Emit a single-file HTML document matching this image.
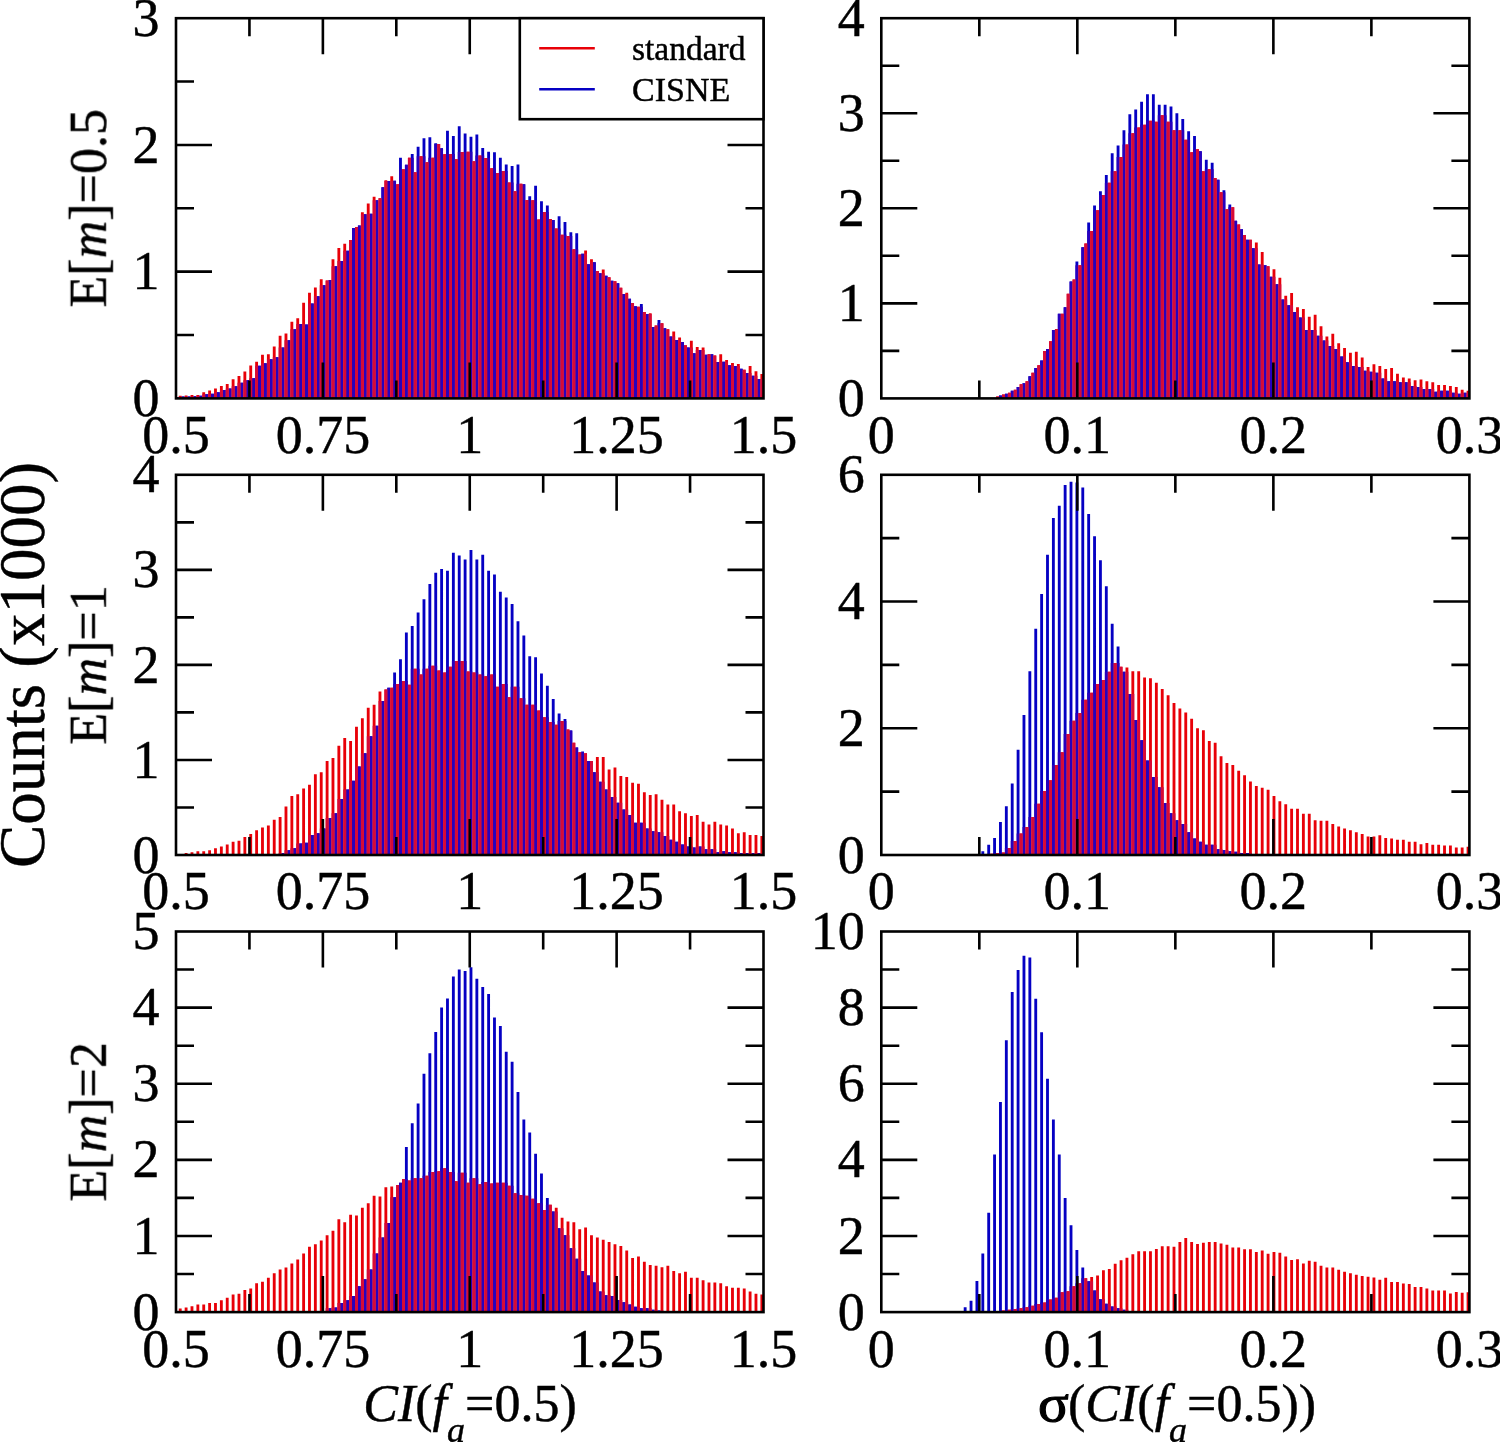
<!DOCTYPE html><html><head><meta charset="utf-8"><style>html,body{margin:0;padding:0;background:#fff;}svg{display:block;}text{font-family:"Liberation Serif",serif;fill:#000;stroke:#000;stroke-width:0.45px;}</style></head><body>
<svg width="1500" height="1442" viewBox="0 0 1500 1442">
<rect width="1500" height="1442" fill="#fff"/>
<path fill="#0500c3" d="M175.80 397.13h2.85v1.27h-2.85zM181.68 396.50h2.85v1.90h-2.85zM187.55 396.50h2.85v1.90h-2.85zM193.43 396.25h2.85v2.15h-2.85zM199.30 395.87h2.85v2.53h-2.85zM205.18 394.34h2.85v4.06h-2.85zM211.05 393.84h2.85v4.56h-2.85zM216.93 392.19h2.85v6.21h-2.85zM222.80 390.04h2.85v8.36h-2.85zM228.68 388.51h2.85v9.89h-2.85zM234.55 386.36h2.85v12.04h-2.85zM240.43 382.69h2.85v15.71h-2.85zM246.30 380.15h2.85v18.25h-2.85zM252.18 378.25h2.85v20.15h-2.85zM258.05 365.70h2.85v32.70h-2.85zM263.93 363.17h2.85v35.23h-2.85zM269.80 359.24h2.85v39.16h-2.85zM275.68 357.34h2.85v41.06h-2.85zM281.55 347.45h2.85v50.95h-2.85zM287.43 340.23h2.85v58.17h-2.85zM293.30 329.20h2.85v69.20h-2.85zM299.18 324.01h2.85v74.39h-2.85zM305.05 324.51h2.85v73.89h-2.85zM310.93 303.48h2.85v94.92h-2.85zM316.80 296.13h2.85v102.27h-2.85zM322.68 285.23h2.85v113.17h-2.85zM328.55 280.03h2.85v118.37h-2.85zM334.43 266.22h2.85v132.18h-2.85zM340.30 261.02h2.85v137.38h-2.85zM346.18 250.76h2.85v147.64h-2.85zM352.05 228.07h2.85v170.33h-2.85zM357.93 225.41h2.85v172.99h-2.85zM363.80 214.13h2.85v184.27h-2.85zM369.68 213.75h2.85v184.65h-2.85zM375.55 200.19h2.85v198.21h-2.85zM381.43 187.26h2.85v211.14h-2.85zM387.30 180.93h2.85v217.47h-2.85zM393.18 180.80h2.85v217.60h-2.85zM399.05 157.73h2.85v240.67h-2.85zM404.93 164.70h2.85v233.70h-2.85zM410.80 153.93h2.85v244.47h-2.85zM416.68 146.71h2.85v251.69h-2.85zM422.55 138.34h2.85v260.06h-2.85zM428.43 137.33h2.85v261.07h-2.85zM434.30 143.29h2.85v255.11h-2.85zM440.18 148.36h2.85v250.04h-2.85zM446.05 130.74h2.85v267.66h-2.85zM451.93 135.94h2.85v262.46h-2.85zM457.80 126.30h2.85v272.10h-2.85zM463.68 133.40h2.85v265.00h-2.85zM469.55 136.70h2.85v261.70h-2.85zM475.43 134.41h2.85v263.99h-2.85zM481.30 148.10h2.85v250.30h-2.85zM487.18 151.78h2.85v246.62h-2.85zM493.05 152.28h2.85v246.12h-2.85zM498.93 157.73h2.85v240.67h-2.85zM504.80 164.45h2.85v233.95h-2.85zM510.68 165.97h2.85v232.43h-2.85zM516.55 164.45h2.85v233.95h-2.85zM522.42 184.22h2.85v214.18h-2.85zM528.30 196.26h2.85v202.14h-2.85zM534.17 185.87h2.85v212.53h-2.85zM540.05 201.33h2.85v197.07h-2.85zM545.92 205.39h2.85v193.01h-2.85zM551.80 219.96h2.85v178.44h-2.85zM557.67 216.16h2.85v182.24h-2.85zM563.55 222.11h2.85v176.29h-2.85zM569.42 232.25h2.85v166.15h-2.85zM575.30 233.14h2.85v165.26h-2.85zM581.17 253.67h2.85v144.73h-2.85zM587.05 264.19h2.85v134.21h-2.85zM592.92 262.16h2.85v136.24h-2.85zM598.80 273.31h2.85v125.09h-2.85zM604.67 275.85h2.85v122.55h-2.85zM610.55 280.79h2.85v117.61h-2.85zM616.42 283.33h2.85v115.07h-2.85zM622.30 294.10h2.85v104.30h-2.85zM628.17 298.79h2.85v99.61h-2.85zM634.05 306.26h2.85v92.14h-2.85zM639.92 304.11h2.85v94.29h-2.85zM645.80 314.12h2.85v84.28h-2.85zM651.67 327.05h2.85v71.35h-2.85zM657.55 320.08h2.85v78.32h-2.85zM663.42 328.19h2.85v70.21h-2.85zM669.30 336.55h2.85v61.85h-2.85zM675.17 340.10h2.85v58.30h-2.85zM681.05 341.88h2.85v56.52h-2.85zM686.92 347.45h2.85v50.95h-2.85zM692.80 353.16h2.85v45.24h-2.85zM698.67 350.11h2.85v48.29h-2.85zM704.55 354.80h2.85v43.60h-2.85zM710.42 354.30h2.85v44.10h-2.85zM716.30 362.03h2.85v36.37h-2.85zM722.17 361.77h2.85v36.63h-2.85zM728.05 365.20h2.85v33.20h-2.85zM733.92 365.96h2.85v32.44h-2.85zM739.80 368.87h2.85v29.53h-2.85zM745.67 372.93h2.85v25.47h-2.85zM751.55 375.84h2.85v22.56h-2.85zM757.42 378.88h2.85v19.52h-2.85z"/>
<path fill="#2800be" d="M175.80 397.13h2.85v1.27h-2.85zM181.68 396.50h2.85v1.90h-2.85zM187.55 396.50h2.85v1.90h-2.85zM193.43 396.25h2.85v2.15h-2.85zM199.30 395.87h2.85v2.53h-2.85zM205.18 394.34h2.85v4.06h-2.85zM211.05 393.84h2.85v4.56h-2.85zM216.93 392.19h2.85v6.21h-2.85zM222.80 390.04h2.85v8.36h-2.85zM228.68 388.51h2.85v9.89h-2.85zM234.55 386.36h2.85v12.04h-2.85zM240.43 382.69h2.85v15.71h-2.85zM246.30 380.15h2.85v18.25h-2.85zM252.18 378.25h2.85v20.15h-2.85zM258.05 365.70h2.85v32.70h-2.85zM263.93 363.17h2.85v35.23h-2.85zM269.80 359.24h2.85v39.16h-2.85zM275.68 357.34h2.85v41.06h-2.85zM281.55 347.45h2.85v50.95h-2.85zM287.43 340.23h2.85v58.17h-2.85zM293.30 329.20h2.85v69.20h-2.85zM299.18 324.01h2.85v74.39h-2.85zM305.05 324.51h2.85v73.89h-2.85zM310.93 303.48h2.85v94.92h-2.85zM316.80 296.13h2.85v102.27h-2.85zM322.68 285.23h2.85v113.17h-2.85zM328.55 280.03h2.85v118.37h-2.85zM334.43 266.22h2.85v132.18h-2.85zM340.30 261.02h2.85v137.38h-2.85zM346.18 250.76h2.85v147.64h-2.85zM352.05 228.07h2.85v170.33h-2.85zM357.93 225.41h2.85v172.99h-2.85zM363.80 214.13h2.85v184.27h-2.85zM369.68 213.75h2.85v184.65h-2.85zM375.55 200.19h2.85v198.21h-2.85zM381.43 187.26h2.85v211.14h-2.85zM387.30 180.93h2.85v217.47h-2.85zM393.18 180.80h2.85v217.60h-2.85zM399.05 169.27h2.85v229.13h-2.85zM404.93 164.70h2.85v233.70h-2.85zM410.80 157.86h2.85v240.54h-2.85zM416.68 156.34h2.85v242.06h-2.85zM422.55 156.34h2.85v242.06h-2.85zM428.43 157.86h2.85v240.54h-2.85zM434.30 143.92h2.85v254.48h-2.85zM440.18 148.36h2.85v250.04h-2.85zM446.05 153.93h2.85v244.47h-2.85zM451.93 153.93h2.85v244.47h-2.85zM457.80 151.90h2.85v246.50h-2.85zM463.68 151.78h2.85v246.62h-2.85zM469.55 151.78h2.85v246.62h-2.85zM475.43 155.58h2.85v242.82h-2.85zM481.30 155.58h2.85v242.82h-2.85zM487.18 158.11h2.85v240.29h-2.85zM493.05 168.25h2.85v230.15h-2.85zM498.93 171.04h2.85v227.36h-2.85zM504.80 171.04h2.85v227.36h-2.85zM510.68 182.45h2.85v215.95h-2.85zM516.55 183.84h2.85v214.56h-2.85zM522.42 184.22h2.85v214.18h-2.85zM528.30 200.06h2.85v198.34h-2.85zM534.17 200.32h2.85v198.08h-2.85zM540.05 212.10h2.85v186.30h-2.85zM545.92 212.10h2.85v186.30h-2.85zM551.80 219.96h2.85v178.44h-2.85zM557.67 228.45h2.85v169.95h-2.85zM563.55 234.79h2.85v163.61h-2.85zM569.42 236.05h2.85v162.35h-2.85zM575.30 249.23h2.85v149.17h-2.85zM581.17 253.67h2.85v144.73h-2.85zM587.05 264.19h2.85v134.21h-2.85zM592.92 262.16h2.85v136.24h-2.85zM598.80 273.31h2.85v125.09h-2.85zM604.67 275.85h2.85v122.55h-2.85zM610.55 280.79h2.85v117.61h-2.85zM616.42 283.33h2.85v115.07h-2.85zM622.30 294.10h2.85v104.30h-2.85zM628.17 298.79h2.85v99.61h-2.85zM634.05 306.26h2.85v92.14h-2.85zM639.92 306.77h2.85v91.63h-2.85zM645.80 314.12h2.85v84.28h-2.85zM651.67 327.05h2.85v71.35h-2.85zM657.55 323.25h2.85v75.15h-2.85zM663.42 328.19h2.85v70.21h-2.85zM669.30 336.55h2.85v61.85h-2.85zM675.17 340.10h2.85v58.30h-2.85zM681.05 341.88h2.85v56.52h-2.85zM686.92 347.45h2.85v50.95h-2.85zM692.80 353.16h2.85v45.24h-2.85zM698.67 350.11h2.85v48.29h-2.85zM704.55 354.80h2.85v43.60h-2.85zM710.42 354.30h2.85v44.10h-2.85zM716.30 362.03h2.85v36.37h-2.85zM722.17 361.77h2.85v36.63h-2.85zM728.05 365.20h2.85v33.20h-2.85zM733.92 365.96h2.85v32.44h-2.85zM739.80 368.87h2.85v29.53h-2.85zM745.67 372.93h2.85v25.47h-2.85zM751.55 375.84h2.85v22.56h-2.85zM757.42 378.88h2.85v19.52h-2.85z"/>
<path fill="#e80008" d="M178.80 395.87h2.85v2.53h-2.85zM184.68 395.49h2.85v2.91h-2.85zM190.55 395.10h2.85v3.30h-2.85zM196.43 395.10h2.85v3.30h-2.85zM202.30 392.19h2.85v6.21h-2.85zM208.18 390.42h2.85v7.98h-2.85zM214.05 388.51h2.85v9.89h-2.85zM219.93 385.98h2.85v12.42h-2.85zM225.80 384.08h2.85v14.32h-2.85zM231.68 379.26h2.85v19.14h-2.85zM237.55 375.97h2.85v22.43h-2.85zM243.43 371.53h2.85v26.87h-2.85zM249.30 365.45h2.85v32.95h-2.85zM255.18 361.65h2.85v36.75h-2.85zM261.05 354.68h2.85v43.72h-2.85zM266.93 354.30h2.85v44.10h-2.85zM272.80 346.44h2.85v51.96h-2.85zM278.68 335.67h2.85v62.73h-2.85zM284.55 333.51h2.85v64.89h-2.85zM290.43 321.85h2.85v76.55h-2.85zM296.30 318.18h2.85v80.22h-2.85zM302.18 302.84h2.85v95.56h-2.85zM308.05 292.83h2.85v105.57h-2.85zM313.93 287.38h2.85v111.02h-2.85zM319.80 279.27h2.85v119.13h-2.85zM325.68 280.54h2.85v117.86h-2.85zM331.55 259.37h2.85v139.03h-2.85zM337.43 248.09h2.85v150.31h-2.85zM343.30 243.79h2.85v154.61h-2.85zM349.18 239.98h2.85v158.42h-2.85zM355.05 227.06h2.85v171.34h-2.85zM360.93 212.23h2.85v186.17h-2.85zM366.80 203.61h2.85v194.79h-2.85zM372.68 196.77h2.85v201.63h-2.85zM378.55 198.16h2.85v200.24h-2.85zM384.43 180.29h2.85v218.11h-2.85zM390.30 176.24h2.85v222.16h-2.85zM396.18 184.22h2.85v214.18h-2.85zM402.05 169.27h2.85v229.13h-2.85zM407.93 157.86h2.85v240.54h-2.85zM413.80 172.31h2.85v226.09h-2.85zM419.68 156.34h2.85v242.06h-2.85zM425.55 162.30h2.85v236.10h-2.85zM431.43 157.86h2.85v240.54h-2.85zM437.30 143.92h2.85v254.48h-2.85zM443.18 154.31h2.85v244.09h-2.85zM449.05 153.93h2.85v244.47h-2.85zM454.93 159.25h2.85v239.15h-2.85zM460.80 151.90h2.85v246.50h-2.85zM466.68 151.78h2.85v246.62h-2.85zM472.55 161.16h2.85v237.24h-2.85zM478.43 155.58h2.85v242.82h-2.85zM484.30 158.11h2.85v240.29h-2.85zM490.18 168.25h2.85v230.15h-2.85zM496.05 172.94h2.85v225.46h-2.85zM501.93 171.04h2.85v227.36h-2.85zM507.80 182.45h2.85v215.95h-2.85zM513.67 191.19h2.85v207.21h-2.85zM519.55 183.84h2.85v214.56h-2.85zM525.42 200.06h2.85v198.34h-2.85zM531.30 200.32h2.85v198.08h-2.85zM537.17 219.58h2.85v178.82h-2.85zM543.05 212.10h2.85v186.30h-2.85zM548.92 218.95h2.85v179.45h-2.85zM554.80 228.45h2.85v169.95h-2.85zM560.67 234.79h2.85v163.61h-2.85zM566.55 236.05h2.85v162.35h-2.85zM572.42 249.23h2.85v149.17h-2.85zM578.30 254.43h2.85v143.97h-2.85zM584.17 250.38h2.85v148.02h-2.85zM590.05 259.37h2.85v139.03h-2.85zM595.92 271.03h2.85v127.37h-2.85zM601.80 269.51h2.85v128.89h-2.85zM607.67 277.37h2.85v121.03h-2.85zM613.55 281.30h2.85v117.10h-2.85zM619.42 287.76h2.85v110.64h-2.85zM625.30 292.70h2.85v105.70h-2.85zM631.17 302.97h2.85v95.43h-2.85zM637.05 306.77h2.85v91.63h-2.85zM642.92 312.09h2.85v86.31h-2.85zM648.80 313.24h2.85v85.16h-2.85zM654.67 325.40h2.85v73.00h-2.85zM660.55 323.25h2.85v75.15h-2.85zM666.42 329.33h2.85v69.07h-2.85zM672.30 331.48h2.85v66.92h-2.85zM678.17 337.44h2.85v60.96h-2.85zM684.05 345.17h2.85v53.23h-2.85zM689.92 340.74h2.85v57.66h-2.85zM695.80 347.07h2.85v51.33h-2.85zM701.67 347.45h2.85v50.95h-2.85zM707.55 354.30h2.85v44.10h-2.85zM713.42 355.44h2.85v42.96h-2.85zM719.30 354.30h2.85v44.10h-2.85zM725.17 360.00h2.85v38.40h-2.85zM731.05 362.91h2.85v35.49h-2.85zM736.92 364.06h2.85v34.34h-2.85zM742.80 369.76h2.85v28.64h-2.85zM748.67 365.96h2.85v32.44h-2.85zM754.55 371.15h2.85v27.25h-2.85zM760.42 373.94h2.85v24.46h-2.85z"/>
<path fill="#d70a37" d="M178.80 396.50h2.85v1.90h-2.85zM184.68 396.50h2.85v1.90h-2.85zM190.55 396.25h2.85v2.15h-2.85zM196.43 395.87h2.85v2.53h-2.85zM202.30 394.34h2.85v4.06h-2.85zM208.18 393.84h2.85v4.56h-2.85zM214.05 392.19h2.85v6.21h-2.85zM219.93 390.04h2.85v8.36h-2.85zM225.80 388.51h2.85v9.89h-2.85zM231.68 386.36h2.85v12.04h-2.85zM237.55 382.69h2.85v15.71h-2.85zM243.43 380.15h2.85v18.25h-2.85zM249.30 378.25h2.85v20.15h-2.85zM255.18 365.70h2.85v32.70h-2.85zM261.05 363.17h2.85v35.23h-2.85zM266.93 359.24h2.85v39.16h-2.85zM272.80 357.34h2.85v41.06h-2.85zM278.68 347.45h2.85v50.95h-2.85zM284.55 340.23h2.85v58.17h-2.85zM290.43 329.20h2.85v69.20h-2.85zM296.30 324.01h2.85v74.39h-2.85zM302.18 324.01h2.85v74.39h-2.85zM308.05 303.48h2.85v94.92h-2.85zM313.93 296.13h2.85v102.27h-2.85zM319.80 285.23h2.85v113.17h-2.85zM325.68 280.54h2.85v117.86h-2.85zM331.55 266.22h2.85v132.18h-2.85zM337.43 261.02h2.85v137.38h-2.85zM343.30 250.76h2.85v147.64h-2.85zM349.18 239.98h2.85v158.42h-2.85zM355.05 227.06h2.85v171.34h-2.85zM360.93 214.13h2.85v184.27h-2.85zM366.80 213.75h2.85v184.65h-2.85zM372.68 200.19h2.85v198.21h-2.85zM378.55 198.16h2.85v200.24h-2.85zM384.43 180.93h2.85v217.47h-2.85zM390.30 180.80h2.85v217.60h-2.85zM396.18 184.22h2.85v214.18h-2.85zM402.05 169.27h2.85v229.13h-2.85zM407.93 157.86h2.85v240.54h-2.85zM413.80 172.31h2.85v226.09h-2.85zM419.68 156.34h2.85v242.06h-2.85zM425.55 162.30h2.85v236.10h-2.85zM431.43 157.86h2.85v240.54h-2.85zM437.30 143.92h2.85v254.48h-2.85zM443.18 154.31h2.85v244.09h-2.85zM449.05 153.93h2.85v244.47h-2.85zM454.93 159.25h2.85v239.15h-2.85zM460.80 151.90h2.85v246.50h-2.85zM466.68 151.78h2.85v246.62h-2.85zM472.55 161.16h2.85v237.24h-2.85zM478.43 155.58h2.85v242.82h-2.85zM484.30 158.11h2.85v240.29h-2.85zM490.18 168.25h2.85v230.15h-2.85zM496.05 172.94h2.85v225.46h-2.85zM501.93 171.04h2.85v227.36h-2.85zM507.80 182.45h2.85v215.95h-2.85zM513.67 191.19h2.85v207.21h-2.85zM519.55 183.84h2.85v214.56h-2.85zM525.42 200.06h2.85v198.34h-2.85zM531.30 200.32h2.85v198.08h-2.85zM537.17 219.58h2.85v178.82h-2.85zM543.05 212.10h2.85v186.30h-2.85zM548.92 218.95h2.85v179.45h-2.85zM554.80 228.45h2.85v169.95h-2.85zM560.67 234.79h2.85v163.61h-2.85zM566.55 236.05h2.85v162.35h-2.85zM572.42 249.23h2.85v149.17h-2.85zM578.30 254.43h2.85v143.97h-2.85zM584.17 253.67h2.85v144.73h-2.85zM590.05 262.16h2.85v136.24h-2.85zM595.92 271.03h2.85v127.37h-2.85zM601.80 273.31h2.85v125.09h-2.85zM607.67 277.37h2.85v121.03h-2.85zM613.55 281.30h2.85v117.10h-2.85zM619.42 287.76h2.85v110.64h-2.85zM625.30 294.10h2.85v104.30h-2.85zM631.17 302.97h2.85v95.43h-2.85zM637.05 306.77h2.85v91.63h-2.85zM642.92 312.09h2.85v86.31h-2.85zM648.80 314.12h2.85v84.28h-2.85zM654.67 325.40h2.85v73.00h-2.85zM660.55 323.25h2.85v75.15h-2.85zM666.42 329.33h2.85v69.07h-2.85zM672.30 336.55h2.85v61.85h-2.85zM678.17 340.10h2.85v58.30h-2.85zM684.05 345.17h2.85v53.23h-2.85zM689.92 347.45h2.85v50.95h-2.85zM695.80 350.11h2.85v48.29h-2.85zM701.67 350.11h2.85v48.29h-2.85zM707.55 354.30h2.85v44.10h-2.85zM713.42 355.44h2.85v42.96h-2.85zM719.30 361.77h2.85v36.63h-2.85zM725.17 361.77h2.85v36.63h-2.85zM731.05 365.20h2.85v33.20h-2.85zM736.92 365.96h2.85v32.44h-2.85zM742.80 369.76h2.85v28.64h-2.85zM748.67 372.93h2.85v25.47h-2.85zM754.55 375.84h2.85v22.56h-2.85zM760.42 378.88h2.85v19.52h-2.85z"/>
<path fill="none" stroke="#000" stroke-width="2.60" d="M249.44 398.40v-18.00M249.44 18.20v18.00M322.88 398.40v-36.00M322.88 18.20v36.00M396.31 398.40v-18.00M396.31 18.20v18.00M469.75 398.40v-36.00M469.75 18.20v36.00M543.19 398.40v-18.00M543.19 18.20v18.00M616.62 398.40v-36.00M616.62 18.20v36.00M690.06 398.40v-18.00M690.06 18.20v18.00M176.00 335.03h18.00M763.50 335.03h-18.00M176.00 271.67h36.00M763.50 271.67h-36.00M176.00 208.30h18.00M763.50 208.30h-18.00M176.00 144.93h36.00M763.50 144.93h-36.00M176.00 81.57h18.00M763.50 81.57h-18.00"/>
<rect x="176.00" y="18.20" width="587.50" height="380.20" fill="none" stroke="#000" stroke-width="2.60"/>
<path fill="#0500c3" d="M999.02 395.55h2.85v2.85h-2.85zM1004.90 393.65h2.85v4.75h-2.85zM1010.78 390.80h2.85v7.60h-2.85zM1016.66 386.99h2.85v11.41h-2.85zM1022.54 383.19h2.85v15.21h-2.85zM1028.42 376.16h2.85v22.24h-2.85zM1034.31 367.98h2.85v30.42h-2.85zM1040.19 360.38h2.85v38.02h-2.85zM1046.07 348.97h2.85v49.43h-2.85zM1051.95 329.96h2.85v68.44h-2.85zM1057.83 313.81h2.85v84.59h-2.85zM1063.71 307.15h2.85v91.25h-2.85zM1069.59 281.49h2.85v116.91h-2.85zM1075.47 261.53h2.85v136.87h-2.85zM1081.35 247.27h2.85v151.13h-2.85zM1087.23 222.56h2.85v175.84h-2.85zM1093.12 205.45h2.85v192.95h-2.85zM1099.00 191.19h2.85v207.21h-2.85zM1104.88 175.03h2.85v223.37h-2.85zM1110.76 153.17h2.85v245.23h-2.85zM1116.64 145.57h2.85v252.83h-2.85zM1122.52 130.36h2.85v268.04h-2.85zM1128.40 114.20h2.85v284.20h-2.85zM1134.28 109.45h2.85v288.95h-2.85zM1140.16 101.84h2.85v296.56h-2.85zM1146.04 94.24h2.85v304.16h-2.85zM1151.93 94.24h2.85v304.16h-2.85zM1157.81 104.70h2.85v293.70h-2.85zM1163.69 104.70h2.85v293.70h-2.85zM1169.57 106.60h2.85v291.80h-2.85zM1175.45 113.25h2.85v285.15h-2.85zM1181.33 118.95h2.85v279.45h-2.85zM1187.21 131.31h2.85v267.09h-2.85zM1193.09 136.06h2.85v262.34h-2.85zM1198.97 151.27h2.85v247.13h-2.85zM1204.86 159.82h2.85v238.58h-2.85zM1210.74 162.68h2.85v235.72h-2.85zM1216.62 179.78h2.85v218.61h-2.85zM1222.50 190.24h2.85v208.16h-2.85zM1228.38 204.50h2.85v193.90h-2.85zM1234.26 220.66h2.85v177.74h-2.85zM1240.14 229.21h2.85v169.19h-2.85zM1246.02 239.67h2.85v158.73h-2.85zM1251.90 248.22h2.85v150.18h-2.85zM1257.78 264.38h2.85v134.02h-2.85zM1263.66 265.33h2.85v133.07h-2.85zM1269.55 276.74h2.85v121.66h-2.85zM1275.43 284.34h2.85v114.06h-2.85zM1281.31 299.55h2.85v98.85h-2.85zM1287.19 305.25h2.85v93.15h-2.85zM1293.07 311.90h2.85v86.50h-2.85zM1298.95 317.61h2.85v80.79h-2.85zM1304.83 329.96h2.85v68.44h-2.85zM1310.71 329.96h2.85v68.44h-2.85zM1316.59 335.67h2.85v62.73h-2.85zM1322.47 340.42h2.85v57.98h-2.85zM1328.36 346.12h2.85v52.28h-2.85zM1334.24 348.97h2.85v49.43h-2.85zM1340.12 356.58h2.85v41.82h-2.85zM1346.00 362.28h2.85v36.12h-2.85zM1351.88 366.08h2.85v32.32h-2.85zM1357.76 367.03h2.85v31.37h-2.85zM1363.64 370.84h2.85v27.56h-2.85zM1369.52 371.79h2.85v26.61h-2.85zM1375.40 372.74h2.85v25.66h-2.85zM1381.28 378.44h2.85v19.96h-2.85zM1387.17 381.29h2.85v17.11h-2.85zM1393.05 381.29h2.85v17.11h-2.85zM1398.93 382.24h2.85v16.16h-2.85zM1404.81 382.24h2.85v16.16h-2.85zM1410.69 386.04h2.85v12.36h-2.85zM1416.57 386.99h2.85v11.41h-2.85zM1422.45 388.89h2.85v9.51h-2.85zM1428.33 388.89h2.85v9.51h-2.85zM1434.21 391.75h2.85v6.65h-2.85zM1440.09 390.80h2.85v7.60h-2.85zM1445.98 390.80h2.85v7.60h-2.85zM1451.86 392.70h2.85v5.70h-2.85zM1457.74 393.65h2.85v4.75h-2.85zM1463.62 392.70h2.85v5.70h-2.85z"/>
<path fill="#2800be" d="M999.02 395.55h2.85v2.85h-2.85zM1004.90 393.65h2.85v4.75h-2.85zM1010.78 390.80h2.85v7.60h-2.85zM1016.66 386.99h2.85v11.41h-2.85zM1022.54 383.19h2.85v15.21h-2.85zM1028.42 376.16h2.85v22.24h-2.85zM1034.31 367.98h2.85v30.42h-2.85zM1040.19 360.38h2.85v38.02h-2.85zM1046.07 348.97h2.85v49.43h-2.85zM1051.95 329.96h2.85v68.44h-2.85zM1057.83 313.81h2.85v84.59h-2.85zM1063.71 307.15h2.85v91.25h-2.85zM1069.59 281.49h2.85v116.91h-2.85zM1075.47 265.33h2.85v133.07h-2.85zM1081.35 247.27h2.85v151.13h-2.85zM1087.23 231.11h2.85v167.29h-2.85zM1093.12 210.20h2.85v188.20h-2.85zM1099.00 194.99h2.85v203.41h-2.85zM1104.88 182.64h2.85v215.76h-2.85zM1110.76 171.23h2.85v227.17h-2.85zM1116.64 156.97h2.85v241.43h-2.85zM1122.52 144.62h2.85v253.78h-2.85zM1128.40 133.21h2.85v265.19h-2.85zM1134.28 127.51h2.85v270.89h-2.85zM1140.16 124.66h2.85v273.74h-2.85zM1146.04 120.85h2.85v277.55h-2.85zM1151.93 120.85h2.85v277.55h-2.85zM1157.81 115.15h2.85v283.25h-2.85zM1163.69 115.15h2.85v283.25h-2.85zM1169.57 121.80h2.85v276.60h-2.85zM1175.45 130.36h2.85v268.04h-2.85zM1181.33 130.36h2.85v268.04h-2.85zM1187.21 139.86h2.85v258.54h-2.85zM1193.09 149.37h2.85v249.03h-2.85zM1198.97 151.27h2.85v247.13h-2.85zM1204.86 169.33h2.85v229.07h-2.85zM1210.74 169.33h2.85v229.07h-2.85zM1216.62 179.78h2.85v218.61h-2.85zM1222.50 192.14h2.85v206.26h-2.85zM1228.38 207.35h2.85v191.05h-2.85zM1234.26 220.66h2.85v177.74h-2.85zM1240.14 229.21h2.85v169.19h-2.85zM1246.02 239.67h2.85v158.73h-2.85zM1251.90 248.22h2.85v150.18h-2.85zM1257.78 264.38h2.85v134.02h-2.85zM1263.66 265.33h2.85v133.07h-2.85zM1269.55 276.74h2.85v121.66h-2.85zM1275.43 284.34h2.85v114.06h-2.85zM1281.31 299.55h2.85v98.85h-2.85zM1287.19 305.25h2.85v93.15h-2.85zM1293.07 311.90h2.85v86.50h-2.85zM1298.95 317.61h2.85v80.79h-2.85zM1304.83 329.96h2.85v68.44h-2.85zM1310.71 329.96h2.85v68.44h-2.85zM1316.59 335.67h2.85v62.73h-2.85zM1322.47 340.42h2.85v57.98h-2.85zM1328.36 346.12h2.85v52.28h-2.85zM1334.24 348.97h2.85v49.43h-2.85zM1340.12 356.58h2.85v41.82h-2.85zM1346.00 362.28h2.85v36.12h-2.85zM1351.88 366.08h2.85v32.32h-2.85zM1357.76 367.03h2.85v31.37h-2.85zM1363.64 370.84h2.85v27.56h-2.85zM1369.52 371.79h2.85v26.61h-2.85zM1375.40 372.74h2.85v25.66h-2.85zM1381.28 378.44h2.85v19.96h-2.85zM1387.17 381.29h2.85v17.11h-2.85zM1393.05 381.29h2.85v17.11h-2.85zM1398.93 382.24h2.85v16.16h-2.85zM1404.81 382.24h2.85v16.16h-2.85zM1410.69 386.04h2.85v12.36h-2.85zM1416.57 386.99h2.85v11.41h-2.85zM1422.45 388.89h2.85v9.51h-2.85zM1428.33 388.89h2.85v9.51h-2.85zM1434.21 391.75h2.85v6.65h-2.85zM1440.09 390.80h2.85v7.60h-2.85zM1445.98 390.80h2.85v7.60h-2.85zM1451.86 392.70h2.85v5.70h-2.85zM1457.74 393.65h2.85v4.75h-2.85zM1463.62 392.70h2.85v5.70h-2.85z"/>
<path fill="#e80008" d="M996.14 396.50h2.85v1.90h-2.85zM1002.02 394.60h2.85v3.80h-2.85zM1007.90 392.70h2.85v5.70h-2.85zM1013.78 389.85h2.85v8.55h-2.85zM1019.66 384.14h2.85v14.26h-2.85zM1025.54 381.29h2.85v17.11h-2.85zM1031.42 372.74h2.85v25.66h-2.85zM1037.31 365.13h2.85v33.27h-2.85zM1043.19 350.88h2.85v47.52h-2.85zM1049.07 341.37h2.85v57.03h-2.85zM1054.95 329.01h2.85v69.39h-2.85zM1060.83 313.81h2.85v84.59h-2.85zM1066.71 293.84h2.85v104.56h-2.85zM1072.59 279.59h2.85v118.81h-2.85zM1078.47 265.33h2.85v133.07h-2.85zM1084.35 243.47h2.85v154.93h-2.85zM1090.23 231.11h2.85v167.29h-2.85zM1096.12 210.20h2.85v188.20h-2.85zM1102.00 194.99h2.85v203.41h-2.85zM1107.88 182.64h2.85v215.76h-2.85zM1113.76 171.23h2.85v227.17h-2.85zM1119.64 156.97h2.85v241.43h-2.85zM1125.52 144.62h2.85v253.78h-2.85zM1131.40 133.21h2.85v265.19h-2.85zM1137.28 127.51h2.85v270.89h-2.85zM1143.16 124.66h2.85v273.74h-2.85zM1149.04 120.85h2.85v277.55h-2.85zM1154.93 121.80h2.85v276.60h-2.85zM1160.81 115.15h2.85v283.25h-2.85zM1166.69 121.80h2.85v276.60h-2.85zM1172.57 130.36h2.85v268.04h-2.85zM1178.45 130.36h2.85v268.04h-2.85zM1184.33 139.86h2.85v258.54h-2.85zM1190.21 152.22h2.85v246.18h-2.85zM1196.09 149.37h2.85v249.03h-2.85zM1201.97 171.23h2.85v227.17h-2.85zM1207.86 169.33h2.85v229.07h-2.85zM1213.74 177.88h2.85v220.52h-2.85zM1219.62 192.14h2.85v206.26h-2.85zM1225.50 209.25h2.85v189.15h-2.85zM1231.38 207.35h2.85v191.05h-2.85zM1237.26 224.46h2.85v173.94h-2.85zM1243.14 234.91h2.85v163.49h-2.85zM1249.02 239.67h2.85v158.73h-2.85zM1254.90 242.52h2.85v155.88h-2.85zM1260.78 252.02h2.85v146.38h-2.85zM1266.66 266.28h2.85v132.12h-2.85zM1272.55 269.13h2.85v129.27h-2.85zM1278.43 277.69h2.85v120.71h-2.85zM1284.31 295.75h2.85v102.65h-2.85zM1290.19 292.89h2.85v105.51h-2.85zM1296.07 307.15h2.85v91.25h-2.85zM1301.95 309.05h2.85v89.35h-2.85zM1307.83 316.66h2.85v81.74h-2.85zM1313.71 314.76h2.85v83.64h-2.85zM1319.59 326.16h2.85v72.24h-2.85zM1325.47 336.62h2.85v61.78h-2.85zM1331.36 333.77h2.85v64.63h-2.85zM1337.24 343.27h2.85v55.13h-2.85zM1343.12 348.02h2.85v50.38h-2.85zM1349.00 352.78h2.85v45.62h-2.85zM1354.88 351.83h2.85v46.57h-2.85zM1360.76 357.53h2.85v40.87h-2.85zM1366.64 367.03h2.85v31.37h-2.85zM1372.52 364.18h2.85v34.22h-2.85zM1378.40 366.08h2.85v32.32h-2.85zM1384.28 368.93h2.85v29.47h-2.85zM1390.17 367.98h2.85v30.42h-2.85zM1396.05 373.69h2.85v24.71h-2.85zM1401.93 377.49h2.85v20.91h-2.85zM1407.81 378.44h2.85v19.96h-2.85zM1413.69 380.34h2.85v18.06h-2.85zM1419.57 379.39h2.85v19.01h-2.85zM1425.45 381.29h2.85v17.11h-2.85zM1431.33 382.24h2.85v16.16h-2.85zM1437.21 385.09h2.85v13.31h-2.85zM1443.09 385.09h2.85v13.31h-2.85zM1448.98 386.04h2.85v12.36h-2.85zM1454.86 386.99h2.85v11.41h-2.85zM1460.74 389.85h2.85v8.55h-2.85zM1466.62 390.80h2.85v7.60h-2.85z"/>
<path fill="#d70a37" d="M996.14 396.50h2.85v1.90h-2.85zM1002.02 394.60h2.85v3.80h-2.85zM1007.90 392.70h2.85v5.70h-2.85zM1013.78 389.85h2.85v8.55h-2.85zM1019.66 384.14h2.85v14.26h-2.85zM1025.54 381.29h2.85v17.11h-2.85zM1031.42 372.74h2.85v25.66h-2.85zM1037.31 365.13h2.85v33.27h-2.85zM1043.19 350.88h2.85v47.52h-2.85zM1049.07 341.37h2.85v57.03h-2.85zM1054.95 329.01h2.85v69.39h-2.85zM1060.83 313.81h2.85v84.59h-2.85zM1066.71 293.84h2.85v104.56h-2.85zM1072.59 279.59h2.85v118.81h-2.85zM1078.47 265.33h2.85v133.07h-2.85zM1084.35 243.47h2.85v154.93h-2.85zM1090.23 231.11h2.85v167.29h-2.85zM1096.12 210.20h2.85v188.20h-2.85zM1102.00 194.99h2.85v203.41h-2.85zM1107.88 182.64h2.85v215.76h-2.85zM1113.76 171.23h2.85v227.17h-2.85zM1119.64 156.97h2.85v241.43h-2.85zM1125.52 144.62h2.85v253.78h-2.85zM1131.40 133.21h2.85v265.19h-2.85zM1137.28 127.51h2.85v270.89h-2.85zM1143.16 124.66h2.85v273.74h-2.85zM1149.04 120.85h2.85v277.55h-2.85zM1154.93 121.80h2.85v276.60h-2.85zM1160.81 115.15h2.85v283.25h-2.85zM1166.69 121.80h2.85v276.60h-2.85zM1172.57 130.36h2.85v268.04h-2.85zM1178.45 130.36h2.85v268.04h-2.85zM1184.33 139.86h2.85v258.54h-2.85zM1190.21 152.22h2.85v246.18h-2.85zM1196.09 149.37h2.85v249.03h-2.85zM1201.97 171.23h2.85v227.17h-2.85zM1207.86 169.33h2.85v229.07h-2.85zM1213.74 177.88h2.85v220.52h-2.85zM1219.62 192.14h2.85v206.26h-2.85zM1225.50 209.25h2.85v189.15h-2.85zM1231.38 207.35h2.85v191.05h-2.85zM1237.26 224.46h2.85v173.94h-2.85zM1243.14 234.91h2.85v163.49h-2.85zM1249.02 239.67h2.85v158.73h-2.85zM1254.90 248.22h2.85v150.18h-2.85zM1260.78 264.38h2.85v134.02h-2.85zM1266.66 266.28h2.85v132.12h-2.85zM1272.55 276.74h2.85v121.66h-2.85zM1278.43 284.34h2.85v114.06h-2.85zM1284.31 299.55h2.85v98.85h-2.85zM1290.19 305.25h2.85v93.15h-2.85zM1296.07 311.90h2.85v86.50h-2.85zM1301.95 317.61h2.85v80.79h-2.85zM1307.83 329.96h2.85v68.44h-2.85zM1313.71 329.96h2.85v68.44h-2.85zM1319.59 335.67h2.85v62.73h-2.85zM1325.47 340.42h2.85v57.98h-2.85zM1331.36 346.12h2.85v52.28h-2.85zM1337.24 348.97h2.85v49.43h-2.85zM1343.12 356.58h2.85v41.82h-2.85zM1349.00 362.28h2.85v36.12h-2.85zM1354.88 366.08h2.85v32.32h-2.85zM1360.76 367.03h2.85v31.37h-2.85zM1366.64 370.84h2.85v27.56h-2.85zM1372.52 371.79h2.85v26.61h-2.85zM1378.40 372.74h2.85v25.66h-2.85zM1384.28 378.44h2.85v19.96h-2.85zM1390.17 381.29h2.85v17.11h-2.85zM1396.05 381.29h2.85v17.11h-2.85zM1401.93 382.24h2.85v16.16h-2.85zM1407.81 382.24h2.85v16.16h-2.85zM1413.69 386.04h2.85v12.36h-2.85zM1419.57 386.99h2.85v11.41h-2.85zM1425.45 388.89h2.85v9.51h-2.85zM1431.33 388.89h2.85v9.51h-2.85zM1437.21 390.80h2.85v7.60h-2.85zM1443.09 390.80h2.85v7.60h-2.85zM1448.98 390.80h2.85v7.60h-2.85zM1454.86 392.70h2.85v5.70h-2.85zM1460.74 392.70h2.85v5.70h-2.85zM1466.62 392.70h2.85v5.70h-2.85z"/>
<path fill="none" stroke="#000" stroke-width="2.60" d="M979.32 398.40v-18.00M979.32 18.20v18.00M1077.33 398.40v-36.00M1077.33 18.20v36.00M1175.35 398.40v-18.00M1175.35 18.20v18.00M1273.37 398.40v-36.00M1273.37 18.20v36.00M1371.38 398.40v-18.00M1371.38 18.20v18.00M881.30 350.88h18.00M1469.40 350.88h-18.00M881.30 303.35h36.00M1469.40 303.35h-36.00M881.30 255.82h18.00M1469.40 255.82h-18.00M881.30 208.30h36.00M1469.40 208.30h-36.00M881.30 160.77h18.00M1469.40 160.77h-18.00M881.30 113.25h36.00M1469.40 113.25h-36.00M881.30 65.72h18.00M1469.40 65.72h-18.00"/>
<rect x="881.30" y="18.20" width="588.10" height="380.20" fill="none" stroke="#000" stroke-width="2.60"/>
<path fill="#0500c3" d="M269.80 854.52h2.85v0.48h-2.85zM275.68 854.05h2.85v0.95h-2.85zM281.55 853.10h2.85v1.90h-2.85zM287.43 850.25h2.85v4.75h-2.85zM293.30 848.35h2.85v6.65h-2.85zM299.18 843.59h2.85v11.41h-2.85zM305.05 842.64h2.85v12.36h-2.85zM310.93 835.04h2.85v19.96h-2.85zM316.80 833.14h2.85v21.86h-2.85zM322.68 828.39h2.85v26.61h-2.85zM328.55 817.93h2.85v37.07h-2.85zM334.43 813.18h2.85v41.82h-2.85zM340.30 798.92h2.85v56.08h-2.85zM346.18 789.42h2.85v65.58h-2.85zM352.05 780.86h2.85v74.14h-2.85zM357.93 766.60h2.85v88.40h-2.85zM363.80 753.30h2.85v101.70h-2.85zM369.68 736.19h2.85v118.81h-2.85zM375.55 725.73h2.85v129.27h-2.85zM381.43 701.02h2.85v153.98h-2.85zM387.30 687.71h2.85v167.29h-2.85zM393.18 672.50h2.85v182.50h-2.85zM399.05 659.20h2.85v195.80h-2.85zM404.93 632.58h2.85v222.42h-2.85zM410.80 625.93h2.85v229.07h-2.85zM416.68 612.62h2.85v242.38h-2.85zM422.55 599.32h2.85v255.68h-2.85zM428.43 584.11h2.85v270.89h-2.85zM434.30 572.70h2.85v282.30h-2.85zM440.18 568.90h2.85v286.10h-2.85zM446.05 570.80h2.85v284.20h-2.85zM451.93 552.74h2.85v302.26h-2.85zM457.80 555.59h2.85v299.41h-2.85zM463.68 559.39h2.85v295.61h-2.85zM469.55 549.89h2.85v305.11h-2.85zM475.43 559.39h2.85v295.61h-2.85zM481.30 554.64h2.85v300.36h-2.85zM487.18 570.80h2.85v284.20h-2.85zM493.05 574.60h2.85v280.40h-2.85zM498.93 591.71h2.85v263.29h-2.85zM504.80 597.41h2.85v257.59h-2.85zM510.68 604.07h2.85v250.93h-2.85zM516.55 621.18h2.85v233.82h-2.85zM522.42 635.43h2.85v219.57h-2.85zM528.30 656.35h2.85v198.65h-2.85zM534.17 657.30h2.85v197.70h-2.85zM540.05 673.45h2.85v181.55h-2.85zM545.92 685.81h2.85v169.19h-2.85zM551.80 699.12h2.85v155.88h-2.85zM557.67 713.38h2.85v141.62h-2.85zM563.55 719.08h2.85v135.92h-2.85zM569.42 730.48h2.85v124.52h-2.85zM575.30 747.59h2.85v107.41h-2.85zM581.17 751.40h2.85v103.60h-2.85zM587.05 760.90h2.85v94.10h-2.85zM592.92 772.31h2.85v82.69h-2.85zM598.80 781.81h2.85v73.19h-2.85zM604.67 789.42h2.85v65.58h-2.85zM610.55 797.02h2.85v57.98h-2.85zM616.42 802.72h2.85v52.28h-2.85zM622.30 809.38h2.85v45.62h-2.85zM628.17 815.08h2.85v39.92h-2.85zM634.05 822.68h2.85v32.32h-2.85zM639.92 822.68h2.85v32.32h-2.85zM645.80 828.39h2.85v26.61h-2.85zM651.67 831.24h2.85v23.76h-2.85zM657.55 832.19h2.85v22.81h-2.85zM663.42 835.99h2.85v19.01h-2.85zM669.30 839.79h2.85v15.21h-2.85zM675.17 841.69h2.85v13.31h-2.85zM681.05 844.54h2.85v10.46h-2.85zM686.92 846.45h2.85v8.55h-2.85zM692.80 847.40h2.85v7.60h-2.85zM698.67 846.45h2.85v8.55h-2.85zM704.55 849.30h2.85v5.70h-2.85zM710.42 849.30h2.85v5.70h-2.85zM716.30 852.15h2.85v2.85h-2.85zM722.17 851.20h2.85v3.80h-2.85zM728.05 852.15h2.85v2.85h-2.85zM733.92 852.15h2.85v2.85h-2.85zM739.80 853.10h2.85v1.90h-2.85zM745.67 853.10h2.85v1.90h-2.85zM751.55 853.10h2.85v1.90h-2.85zM757.42 853.10h2.85v1.90h-2.85z"/>
<path fill="#2800be" d="M275.68 854.05h2.85v0.95h-2.85zM281.55 853.10h2.85v1.90h-2.85zM287.43 850.25h2.85v4.75h-2.85zM293.30 848.35h2.85v6.65h-2.85zM299.18 843.59h2.85v11.41h-2.85zM305.05 842.64h2.85v12.36h-2.85zM310.93 835.04h2.85v19.96h-2.85zM316.80 833.14h2.85v21.86h-2.85zM322.68 828.39h2.85v26.61h-2.85zM328.55 817.93h2.85v37.07h-2.85zM334.43 813.18h2.85v41.82h-2.85zM340.30 798.92h2.85v56.08h-2.85zM346.18 789.42h2.85v65.58h-2.85zM352.05 780.86h2.85v74.14h-2.85zM357.93 766.60h2.85v88.40h-2.85zM363.80 753.30h2.85v101.70h-2.85zM369.68 736.19h2.85v118.81h-2.85zM375.55 725.73h2.85v129.27h-2.85zM381.43 701.02h2.85v153.98h-2.85zM387.30 687.71h2.85v167.29h-2.85zM393.18 683.91h2.85v171.09h-2.85zM399.05 681.06h2.85v173.94h-2.85zM404.93 681.06h2.85v173.94h-2.85zM410.80 668.70h2.85v186.30h-2.85zM416.68 668.70h2.85v186.30h-2.85zM422.55 668.70h2.85v186.30h-2.85zM428.43 665.85h2.85v189.15h-2.85zM434.30 665.85h2.85v189.15h-2.85zM440.18 670.60h2.85v184.40h-2.85zM446.05 666.80h2.85v188.20h-2.85zM451.93 661.10h2.85v193.90h-2.85zM457.80 661.10h2.85v193.90h-2.85zM463.68 661.10h2.85v193.90h-2.85zM469.55 671.55h2.85v183.45h-2.85zM475.43 672.50h2.85v182.50h-2.85zM481.30 674.40h2.85v180.59h-2.85zM487.18 674.40h2.85v180.59h-2.85zM493.05 674.40h2.85v180.59h-2.85zM498.93 683.91h2.85v171.09h-2.85zM504.80 683.91h2.85v171.09h-2.85zM510.68 686.76h2.85v168.24h-2.85zM516.55 686.76h2.85v168.24h-2.85zM522.42 698.17h2.85v156.83h-2.85zM528.30 704.82h2.85v150.18h-2.85zM534.17 704.82h2.85v150.18h-2.85zM540.05 710.52h2.85v144.48h-2.85zM545.92 717.18h2.85v137.82h-2.85zM551.80 721.93h2.85v133.07h-2.85zM557.67 720.98h2.85v134.02h-2.85zM563.55 720.98h2.85v134.02h-2.85zM569.42 730.48h2.85v124.52h-2.85zM575.30 747.59h2.85v107.41h-2.85zM581.17 752.35h2.85v102.65h-2.85zM587.05 760.90h2.85v94.10h-2.85zM592.92 772.31h2.85v82.69h-2.85zM598.80 781.81h2.85v73.19h-2.85zM604.67 789.42h2.85v65.58h-2.85zM610.55 797.02h2.85v57.98h-2.85zM616.42 802.72h2.85v52.28h-2.85zM622.30 809.38h2.85v45.62h-2.85zM628.17 815.08h2.85v39.92h-2.85zM634.05 822.68h2.85v32.32h-2.85zM639.92 822.68h2.85v32.32h-2.85zM645.80 828.39h2.85v26.61h-2.85zM651.67 831.24h2.85v23.76h-2.85zM657.55 832.19h2.85v22.81h-2.85zM663.42 835.99h2.85v19.01h-2.85zM669.30 839.79h2.85v15.21h-2.85zM675.17 841.69h2.85v13.31h-2.85zM681.05 844.54h2.85v10.46h-2.85zM686.92 846.45h2.85v8.55h-2.85zM692.80 847.40h2.85v7.60h-2.85zM698.67 846.45h2.85v8.55h-2.85zM704.55 849.30h2.85v5.70h-2.85zM710.42 849.30h2.85v5.70h-2.85zM716.30 852.15h2.85v2.85h-2.85zM722.17 851.20h2.85v3.80h-2.85zM728.05 852.15h2.85v2.85h-2.85zM733.92 852.15h2.85v2.85h-2.85zM739.80 853.10h2.85v1.90h-2.85zM745.67 853.10h2.85v1.90h-2.85zM751.55 853.10h2.85v1.90h-2.85zM757.42 853.10h2.85v1.90h-2.85z"/>
<path fill="#e80008" d="M178.80 854.05h2.85v0.95h-2.85zM184.68 853.10h2.85v1.90h-2.85zM190.55 852.15h2.85v2.85h-2.85zM196.43 851.20h2.85v3.80h-2.85zM202.30 851.20h2.85v3.80h-2.85zM208.18 850.25h2.85v4.75h-2.85zM214.05 848.35h2.85v6.65h-2.85zM219.93 846.45h2.85v8.55h-2.85zM225.80 844.54h2.85v10.46h-2.85zM231.68 841.69h2.85v13.31h-2.85zM237.55 840.74h2.85v14.26h-2.85zM243.43 836.94h2.85v18.06h-2.85zM249.30 834.09h2.85v20.91h-2.85zM255.18 830.29h2.85v24.71h-2.85zM261.05 827.44h2.85v27.56h-2.85zM266.93 825.53h2.85v29.47h-2.85zM272.80 819.83h2.85v35.17h-2.85zM278.68 816.98h2.85v38.02h-2.85zM284.55 806.52h2.85v48.48h-2.85zM290.43 796.07h2.85v58.93h-2.85zM296.30 794.17h2.85v60.83h-2.85zM302.18 788.47h2.85v66.53h-2.85zM308.05 784.66h2.85v70.34h-2.85zM313.93 774.21h2.85v80.79h-2.85zM319.80 772.31h2.85v82.69h-2.85zM325.68 760.90h2.85v94.10h-2.85zM331.55 758.05h2.85v96.95h-2.85zM337.43 745.69h2.85v109.31h-2.85zM343.30 738.09h2.85v116.91h-2.85zM349.18 740.94h2.85v114.06h-2.85zM355.05 726.68h2.85v128.32h-2.85zM360.93 718.13h2.85v136.87h-2.85zM366.80 707.67h2.85v147.33h-2.85zM372.68 704.82h2.85v150.18h-2.85zM378.55 691.51h2.85v163.49h-2.85zM384.43 689.61h2.85v165.39h-2.85zM390.30 687.71h2.85v167.29h-2.85zM396.18 683.91h2.85v171.09h-2.85zM402.05 681.06h2.85v173.94h-2.85zM407.93 684.86h2.85v170.14h-2.85zM413.80 668.70h2.85v186.30h-2.85zM419.68 674.40h2.85v180.59h-2.85zM425.55 668.70h2.85v186.30h-2.85zM431.43 665.85h2.85v189.15h-2.85zM437.30 670.60h2.85v184.40h-2.85zM443.18 672.50h2.85v182.50h-2.85zM449.05 666.80h2.85v188.20h-2.85zM454.93 661.10h2.85v193.90h-2.85zM460.80 661.10h2.85v193.90h-2.85zM466.68 671.55h2.85v183.45h-2.85zM472.55 672.50h2.85v182.50h-2.85zM478.43 674.40h2.85v180.59h-2.85zM484.30 676.31h2.85v178.69h-2.85zM490.18 674.40h2.85v180.59h-2.85zM496.05 686.76h2.85v168.24h-2.85zM501.93 683.91h2.85v171.09h-2.85zM507.80 697.22h2.85v157.78h-2.85zM513.67 686.76h2.85v168.24h-2.85zM519.55 698.17h2.85v156.83h-2.85zM525.42 704.82h2.85v150.18h-2.85zM531.30 704.82h2.85v150.18h-2.85zM537.17 710.52h2.85v144.48h-2.85zM543.05 717.18h2.85v137.82h-2.85zM548.92 721.93h2.85v133.07h-2.85zM554.80 724.78h2.85v130.22h-2.85zM560.67 720.98h2.85v134.02h-2.85zM566.55 729.53h2.85v125.47h-2.85zM572.42 742.84h2.85v112.16h-2.85zM578.30 752.35h2.85v102.65h-2.85zM584.17 753.30h2.85v101.70h-2.85zM590.05 760.90h2.85v94.10h-2.85zM595.92 757.10h2.85v97.90h-2.85zM601.80 757.10h2.85v97.90h-2.85zM607.67 769.46h2.85v85.55h-2.85zM613.55 767.55h2.85v87.45h-2.85zM619.42 776.11h2.85v78.89h-2.85zM625.30 777.06h2.85v77.94h-2.85zM631.17 782.76h2.85v72.24h-2.85zM637.05 783.71h2.85v71.29h-2.85zM642.92 792.27h2.85v62.73h-2.85zM648.80 795.12h2.85v59.88h-2.85zM654.67 794.17h2.85v60.83h-2.85zM660.55 799.87h2.85v55.13h-2.85zM666.42 804.62h2.85v50.38h-2.85zM672.30 804.62h2.85v50.38h-2.85zM678.17 811.28h2.85v43.72h-2.85zM684.05 813.18h2.85v41.82h-2.85zM689.92 816.03h2.85v38.97h-2.85zM695.80 815.08h2.85v39.92h-2.85zM701.67 821.73h2.85v33.27h-2.85zM707.55 824.58h2.85v30.42h-2.85zM713.42 821.73h2.85v33.27h-2.85zM719.30 824.58h2.85v30.42h-2.85zM725.17 825.53h2.85v29.47h-2.85zM731.05 828.39h2.85v26.61h-2.85zM736.92 833.14h2.85v21.86h-2.85zM742.80 832.19h2.85v22.81h-2.85zM748.67 835.04h2.85v19.96h-2.85zM754.55 835.04h2.85v19.96h-2.85zM760.42 835.99h2.85v19.01h-2.85z"/>
<path fill="#d70a37" d="M272.80 854.05h2.85v0.95h-2.85zM278.68 853.10h2.85v1.90h-2.85zM284.55 850.25h2.85v4.75h-2.85zM290.43 848.35h2.85v6.65h-2.85zM296.30 843.59h2.85v11.41h-2.85zM302.18 842.64h2.85v12.36h-2.85zM308.05 835.04h2.85v19.96h-2.85zM313.93 833.14h2.85v21.86h-2.85zM319.80 828.39h2.85v26.61h-2.85zM325.68 817.93h2.85v37.07h-2.85zM331.55 813.18h2.85v41.82h-2.85zM337.43 798.92h2.85v56.08h-2.85zM343.30 789.42h2.85v65.58h-2.85zM349.18 780.86h2.85v74.14h-2.85zM355.05 766.60h2.85v88.40h-2.85zM360.93 753.30h2.85v101.70h-2.85zM366.80 736.19h2.85v118.81h-2.85zM372.68 725.73h2.85v129.27h-2.85zM378.55 701.02h2.85v153.98h-2.85zM384.43 689.61h2.85v165.39h-2.85zM390.30 687.71h2.85v167.29h-2.85zM396.18 683.91h2.85v171.09h-2.85zM402.05 681.06h2.85v173.94h-2.85zM407.93 684.86h2.85v170.14h-2.85zM413.80 668.70h2.85v186.30h-2.85zM419.68 674.40h2.85v180.59h-2.85zM425.55 668.70h2.85v186.30h-2.85zM431.43 665.85h2.85v189.15h-2.85zM437.30 670.60h2.85v184.40h-2.85zM443.18 672.50h2.85v182.50h-2.85zM449.05 666.80h2.85v188.20h-2.85zM454.93 661.10h2.85v193.90h-2.85zM460.80 661.10h2.85v193.90h-2.85zM466.68 671.55h2.85v183.45h-2.85zM472.55 672.50h2.85v182.50h-2.85zM478.43 674.40h2.85v180.59h-2.85zM484.30 676.31h2.85v178.69h-2.85zM490.18 674.40h2.85v180.59h-2.85zM496.05 686.76h2.85v168.24h-2.85zM501.93 683.91h2.85v171.09h-2.85zM507.80 697.22h2.85v157.78h-2.85zM513.67 686.76h2.85v168.24h-2.85zM519.55 698.17h2.85v156.83h-2.85zM525.42 704.82h2.85v150.18h-2.85zM531.30 704.82h2.85v150.18h-2.85zM537.17 710.52h2.85v144.48h-2.85zM543.05 717.18h2.85v137.82h-2.85zM548.92 721.93h2.85v133.07h-2.85zM554.80 724.78h2.85v130.22h-2.85zM560.67 720.98h2.85v134.02h-2.85zM566.55 729.53h2.85v125.47h-2.85zM572.42 742.84h2.85v112.16h-2.85zM578.30 752.35h2.85v102.65h-2.85zM584.17 753.30h2.85v101.70h-2.85zM590.05 760.90h2.85v94.10h-2.85zM595.92 772.31h2.85v82.69h-2.85zM601.80 781.81h2.85v73.19h-2.85zM607.67 789.42h2.85v65.58h-2.85zM613.55 797.02h2.85v57.98h-2.85zM619.42 802.72h2.85v52.28h-2.85zM625.30 809.38h2.85v45.62h-2.85zM631.17 815.08h2.85v39.92h-2.85zM637.05 822.68h2.85v32.32h-2.85zM642.92 822.68h2.85v32.32h-2.85zM648.80 828.39h2.85v26.61h-2.85zM654.67 831.24h2.85v23.76h-2.85zM660.55 832.19h2.85v22.81h-2.85zM666.42 835.99h2.85v19.01h-2.85zM672.30 839.79h2.85v15.21h-2.85zM678.17 841.69h2.85v13.31h-2.85zM684.05 844.54h2.85v10.46h-2.85zM689.92 846.45h2.85v8.55h-2.85zM695.80 846.45h2.85v8.55h-2.85zM701.67 846.45h2.85v8.55h-2.85zM707.55 849.30h2.85v5.70h-2.85zM713.42 849.30h2.85v5.70h-2.85zM719.30 851.20h2.85v3.80h-2.85zM725.17 851.20h2.85v3.80h-2.85zM731.05 852.15h2.85v2.85h-2.85zM736.92 852.15h2.85v2.85h-2.85zM742.80 853.10h2.85v1.90h-2.85zM748.67 853.10h2.85v1.90h-2.85zM754.55 853.10h2.85v1.90h-2.85zM760.42 853.10h2.85v1.90h-2.85z"/>
<path fill="none" stroke="#000" stroke-width="2.60" d="M249.44 855.00v-18.00M249.44 474.80v18.00M322.88 855.00v-36.00M322.88 474.80v36.00M396.31 855.00v-18.00M396.31 474.80v18.00M469.75 855.00v-36.00M469.75 474.80v36.00M543.19 855.00v-18.00M543.19 474.80v18.00M616.62 855.00v-36.00M616.62 474.80v36.00M690.06 855.00v-18.00M690.06 474.80v18.00M176.00 807.48h18.00M763.50 807.48h-18.00M176.00 759.95h36.00M763.50 759.95h-36.00M176.00 712.42h18.00M763.50 712.42h-18.00M176.00 664.90h36.00M763.50 664.90h-36.00M176.00 617.38h18.00M763.50 617.38h-18.00M176.00 569.85h36.00M763.50 569.85h-36.00M176.00 522.33h18.00M763.50 522.33h-18.00"/>
<rect x="176.00" y="474.80" width="587.50" height="380.20" fill="none" stroke="#000" stroke-width="2.60"/>
<path fill="#0500c3" d="M981.38 851.20h2.85v3.80h-2.85zM987.26 844.86h2.85v10.14h-2.85zM993.14 837.89h2.85v17.11h-2.85zM999.02 822.05h2.85v32.95h-2.85zM1004.90 806.21h2.85v48.79h-2.85zM1010.78 783.40h2.85v71.60h-2.85zM1016.66 749.81h2.85v105.19h-2.85zM1022.54 714.96h2.85v140.04h-2.85zM1028.42 671.24h2.85v183.76h-2.85zM1034.31 628.78h2.85v226.22h-2.85zM1040.19 593.93h2.85v261.07h-2.85zM1046.07 554.64h2.85v300.36h-2.85zM1051.95 517.89h2.85v337.11h-2.85zM1057.83 505.85h2.85v349.15h-2.85zM1063.71 484.94h2.85v370.06h-2.85zM1069.59 481.77h2.85v373.23h-2.85zM1075.47 482.40h2.85v372.60h-2.85zM1081.35 487.47h2.85v367.53h-2.85zM1087.23 514.09h2.85v340.91h-2.85zM1093.12 536.27h2.85v318.73h-2.85zM1099.00 560.35h2.85v294.66h-2.85zM1104.88 586.33h2.85v268.67h-2.85zM1110.76 623.71h2.85v231.29h-2.85zM1116.64 646.52h2.85v208.48h-2.85zM1122.52 671.87h2.85v183.13h-2.85zM1128.40 694.05h2.85v160.95h-2.85zM1134.28 720.03h2.85v134.97h-2.85zM1140.16 740.31h2.85v114.69h-2.85zM1146.04 760.58h2.85v94.42h-2.85zM1151.93 777.06h2.85v77.94h-2.85zM1157.81 787.20h2.85v67.80h-2.85zM1163.69 803.04h2.85v51.96h-2.85zM1169.57 813.18h2.85v41.82h-2.85zM1175.45 820.15h2.85v34.85h-2.85zM1181.33 823.95h2.85v31.05h-2.85zM1187.21 832.19h2.85v22.81h-2.85zM1193.09 838.52h2.85v16.48h-2.85zM1198.97 841.69h2.85v13.31h-2.85zM1204.86 844.86h2.85v10.14h-2.85zM1210.74 844.86h2.85v10.14h-2.85zM1216.62 849.30h2.85v5.70h-2.85zM1222.50 849.93h2.85v5.07h-2.85zM1228.38 851.20h2.85v3.80h-2.85zM1234.26 851.83h2.85v3.17h-2.85zM1240.14 853.10h2.85v1.90h-2.85zM1246.02 853.10h2.85v1.90h-2.85zM1251.90 854.37h2.85v0.63h-2.85z"/>
<path fill="#2800be" d="M987.26 853.73h2.85v1.27h-2.85zM993.14 853.10h2.85v1.90h-2.85zM999.02 852.47h2.85v2.53h-2.85zM1004.90 848.03h2.85v6.97h-2.85zM1010.78 841.06h2.85v13.94h-2.85zM1016.66 833.46h2.85v21.54h-2.85zM1022.54 827.12h2.85v27.88h-2.85zM1028.42 816.98h2.85v38.02h-2.85zM1034.31 803.67h2.85v51.33h-2.85zM1040.19 791.00h2.85v64.00h-2.85zM1046.07 780.23h2.85v74.77h-2.85zM1051.95 765.02h2.85v89.98h-2.85zM1057.83 752.35h2.85v102.65h-2.85zM1063.71 733.97h2.85v121.03h-2.85zM1069.59 720.66h2.85v134.34h-2.85zM1075.47 713.06h2.85v141.94h-2.85zM1081.35 699.75h2.85v155.25h-2.85zM1087.23 692.78h2.85v162.22h-2.85zM1093.12 683.91h2.85v171.09h-2.85zM1099.00 680.11h2.85v174.89h-2.85zM1104.88 671.87h2.85v183.13h-2.85zM1110.76 663.00h2.85v192.00h-2.85zM1116.64 663.00h2.85v192.00h-2.85zM1122.52 671.87h2.85v183.13h-2.85zM1128.40 694.05h2.85v160.95h-2.85zM1134.28 720.03h2.85v134.97h-2.85zM1140.16 740.31h2.85v114.69h-2.85zM1146.04 760.58h2.85v94.42h-2.85zM1151.93 777.06h2.85v77.94h-2.85zM1157.81 787.20h2.85v67.80h-2.85zM1163.69 803.04h2.85v51.96h-2.85zM1169.57 813.18h2.85v41.82h-2.85zM1175.45 820.15h2.85v34.85h-2.85zM1181.33 823.95h2.85v31.05h-2.85zM1187.21 832.19h2.85v22.81h-2.85zM1193.09 838.52h2.85v16.48h-2.85zM1198.97 841.69h2.85v13.31h-2.85zM1204.86 844.86h2.85v10.14h-2.85zM1210.74 844.86h2.85v10.14h-2.85zM1216.62 849.30h2.85v5.70h-2.85zM1222.50 849.93h2.85v5.07h-2.85zM1228.38 851.20h2.85v3.80h-2.85zM1234.26 851.83h2.85v3.17h-2.85zM1240.14 853.10h2.85v1.90h-2.85zM1246.02 853.10h2.85v1.90h-2.85zM1251.90 854.37h2.85v0.63h-2.85z"/>
<path fill="#e80008" d="M990.26 853.73h2.85v1.27h-2.85zM996.14 853.10h2.85v1.90h-2.85zM1002.02 852.47h2.85v2.53h-2.85zM1007.90 848.03h2.85v6.97h-2.85zM1013.78 841.06h2.85v13.94h-2.85zM1019.66 833.46h2.85v21.54h-2.85zM1025.54 827.12h2.85v27.88h-2.85zM1031.42 816.98h2.85v38.02h-2.85zM1037.31 803.67h2.85v51.33h-2.85zM1043.19 791.00h2.85v64.00h-2.85zM1049.07 780.23h2.85v74.77h-2.85zM1054.95 765.02h2.85v89.98h-2.85zM1060.83 752.35h2.85v102.65h-2.85zM1066.71 733.97h2.85v121.03h-2.85zM1072.59 720.66h2.85v134.34h-2.85zM1078.47 713.06h2.85v141.94h-2.85zM1084.35 699.75h2.85v155.25h-2.85zM1090.23 692.78h2.85v162.22h-2.85zM1096.12 683.91h2.85v171.09h-2.85zM1102.00 680.11h2.85v174.89h-2.85zM1107.88 671.87h2.85v183.13h-2.85zM1113.76 663.00h2.85v192.00h-2.85zM1119.64 666.80h2.85v188.20h-2.85zM1125.52 667.43h2.85v187.57h-2.85zM1131.40 671.24h2.85v183.76h-2.85zM1137.28 671.24h2.85v183.76h-2.85zM1143.16 677.57h2.85v177.43h-2.85zM1149.04 678.21h2.85v176.79h-2.85zM1154.93 682.64h2.85v172.36h-2.85zM1160.81 688.98h2.85v166.02h-2.85zM1166.69 695.32h2.85v159.68h-2.85zM1172.57 702.92h2.85v152.08h-2.85zM1178.45 708.62h2.85v146.38h-2.85zM1184.33 712.42h2.85v142.57h-2.85zM1190.21 718.76h2.85v136.24h-2.85zM1196.09 728.27h2.85v126.73h-2.85zM1201.97 730.17h2.85v124.83h-2.85zM1207.86 740.94h2.85v114.06h-2.85zM1213.74 742.84h2.85v112.16h-2.85zM1219.62 756.15h2.85v98.85h-2.85zM1225.50 763.12h2.85v91.88h-2.85zM1231.38 765.02h2.85v89.98h-2.85zM1237.26 770.72h2.85v84.28h-2.85zM1243.14 775.16h2.85v79.84h-2.85zM1249.02 781.49h2.85v73.51h-2.85zM1254.90 785.93h2.85v69.07h-2.85zM1260.78 787.83h2.85v67.17h-2.85zM1266.66 789.73h2.85v65.27h-2.85zM1272.55 796.07h2.85v58.93h-2.85zM1278.43 801.14h2.85v53.86h-2.85zM1284.31 804.31h2.85v50.69h-2.85zM1290.19 808.74h2.85v46.26h-2.85zM1296.07 808.74h2.85v46.26h-2.85zM1301.95 813.81h2.85v41.19h-2.85zM1307.83 813.81h2.85v41.19h-2.85zM1313.71 820.15h2.85v34.85h-2.85zM1319.59 820.78h2.85v34.22h-2.85zM1325.47 820.78h2.85v34.22h-2.85zM1331.36 823.95h2.85v31.05h-2.85zM1337.24 826.49h2.85v28.52h-2.85zM1343.12 828.39h2.85v26.61h-2.85zM1349.00 830.29h2.85v24.71h-2.85zM1354.88 832.19h2.85v22.81h-2.85zM1360.76 834.09h2.85v20.91h-2.85zM1366.64 836.62h2.85v18.38h-2.85zM1372.52 836.62h2.85v18.38h-2.85zM1378.40 835.36h2.85v19.64h-2.85zM1384.28 837.89h2.85v17.11h-2.85zM1390.17 838.52h2.85v16.48h-2.85zM1396.05 839.79h2.85v15.21h-2.85zM1401.93 839.79h2.85v15.21h-2.85zM1407.81 841.69h2.85v13.31h-2.85zM1413.69 841.69h2.85v13.31h-2.85zM1419.57 844.23h2.85v10.77h-2.85zM1425.45 842.96h2.85v12.04h-2.85zM1431.33 844.86h2.85v10.14h-2.85zM1437.21 844.86h2.85v10.14h-2.85zM1443.09 845.50h2.85v9.50h-2.85zM1448.98 845.50h2.85v9.50h-2.85zM1454.86 847.40h2.85v7.60h-2.85zM1460.74 847.40h2.85v7.60h-2.85zM1466.62 846.76h2.85v8.24h-2.85z"/>
<path fill="#d70a37" d="M990.26 853.73h2.85v1.27h-2.85zM996.14 853.10h2.85v1.90h-2.85zM1002.02 852.47h2.85v2.53h-2.85zM1007.90 848.03h2.85v6.97h-2.85zM1013.78 841.06h2.85v13.94h-2.85zM1019.66 833.46h2.85v21.54h-2.85zM1025.54 827.12h2.85v27.88h-2.85zM1031.42 816.98h2.85v38.02h-2.85zM1037.31 803.67h2.85v51.33h-2.85zM1043.19 791.00h2.85v64.00h-2.85zM1049.07 780.23h2.85v74.77h-2.85zM1054.95 765.02h2.85v89.98h-2.85zM1060.83 752.35h2.85v102.65h-2.85zM1066.71 733.97h2.85v121.03h-2.85zM1072.59 720.66h2.85v134.34h-2.85zM1078.47 713.06h2.85v141.94h-2.85zM1084.35 699.75h2.85v155.25h-2.85zM1090.23 692.78h2.85v162.22h-2.85zM1096.12 683.91h2.85v171.09h-2.85zM1102.00 680.11h2.85v174.89h-2.85zM1107.88 671.87h2.85v183.13h-2.85zM1113.76 663.00h2.85v192.00h-2.85zM1119.64 666.80h2.85v188.20h-2.85zM1125.52 671.87h2.85v183.13h-2.85zM1131.40 694.05h2.85v160.95h-2.85zM1137.28 720.03h2.85v134.97h-2.85zM1143.16 740.31h2.85v114.69h-2.85zM1149.04 760.58h2.85v94.42h-2.85zM1154.93 777.06h2.85v77.94h-2.85zM1160.81 787.20h2.85v67.80h-2.85zM1166.69 803.04h2.85v51.96h-2.85zM1172.57 813.18h2.85v41.82h-2.85zM1178.45 820.15h2.85v34.85h-2.85zM1184.33 823.95h2.85v31.05h-2.85zM1190.21 832.19h2.85v22.81h-2.85zM1196.09 838.52h2.85v16.48h-2.85zM1201.97 841.69h2.85v13.31h-2.85zM1207.86 844.86h2.85v10.14h-2.85zM1213.74 844.86h2.85v10.14h-2.85zM1219.62 849.30h2.85v5.70h-2.85zM1225.50 849.93h2.85v5.07h-2.85zM1231.38 851.20h2.85v3.80h-2.85zM1237.26 851.83h2.85v3.17h-2.85zM1243.14 853.10h2.85v1.90h-2.85zM1249.02 853.10h2.85v1.90h-2.85zM1254.90 854.37h2.85v0.63h-2.85z"/>
<path fill="none" stroke="#000" stroke-width="2.60" d="M979.32 855.00v-18.00M979.32 474.80v18.00M1077.33 855.00v-36.00M1077.33 474.80v36.00M1175.35 855.00v-18.00M1175.35 474.80v18.00M1273.37 855.00v-36.00M1273.37 474.80v36.00M1371.38 855.00v-18.00M1371.38 474.80v18.00M881.30 791.63h18.00M1469.40 791.63h-18.00M881.30 728.27h36.00M1469.40 728.27h-36.00M881.30 664.90h18.00M1469.40 664.90h-18.00M881.30 601.53h36.00M1469.40 601.53h-36.00M881.30 538.17h18.00M1469.40 538.17h-18.00"/>
<rect x="881.30" y="474.80" width="588.10" height="380.20" fill="none" stroke="#000" stroke-width="2.60"/>
<path fill="#0500c3" d="M316.80 1311.34h2.85v0.76h-2.85zM328.55 1308.29h2.85v3.81h-2.85zM334.43 1307.53h2.85v4.57h-2.85zM340.30 1302.97h2.85v9.13h-2.85zM346.18 1300.30h2.85v11.80h-2.85zM352.05 1296.11h2.85v15.99h-2.85zM357.93 1286.22h2.85v25.88h-2.85zM363.80 1279.37h2.85v32.73h-2.85zM369.68 1269.47h2.85v42.63h-2.85zM375.55 1253.49h2.85v58.61h-2.85zM381.43 1237.50h2.85v74.60h-2.85zM387.30 1223.04h2.85v89.06h-2.85zM393.18 1197.16h2.85v114.94h-2.85zM399.05 1182.70h2.85v129.40h-2.85zM404.93 1146.92h2.85v165.18h-2.85zM410.80 1123.32h2.85v188.78h-2.85zM416.68 1103.53h2.85v208.57h-2.85zM422.55 1073.84h2.85v238.26h-2.85zM428.43 1053.29h2.85v258.81h-2.85zM434.30 1031.98h2.85v280.12h-2.85zM440.18 1007.62h2.85v304.48h-2.85zM446.05 998.49h2.85v313.61h-2.85zM451.93 976.41h2.85v335.69h-2.85zM457.80 969.56h2.85v342.54h-2.85zM463.68 971.08h2.85v341.02h-2.85zM469.55 967.28h2.85v344.82h-2.85zM475.43 978.69h2.85v333.41h-2.85zM481.30 987.07h2.85v325.03h-2.85zM487.18 993.92h2.85v318.18h-2.85zM493.05 1017.52h2.85v294.58h-2.85zM498.93 1025.89h2.85v286.21h-2.85zM504.80 1051.77h2.85v260.33h-2.85zM510.68 1061.67h2.85v250.43h-2.85zM516.55 1092.11h2.85v219.99h-2.85zM522.42 1119.52h2.85v192.58h-2.85zM528.30 1132.46h2.85v179.64h-2.85zM534.17 1153.77h2.85v158.33h-2.85zM540.05 1173.56h2.85v138.54h-2.85zM545.92 1197.92h2.85v114.18h-2.85zM551.80 1211.62h2.85v100.48h-2.85zM557.67 1228.37h2.85v83.73h-2.85zM563.55 1235.22h2.85v76.88h-2.85zM569.42 1248.16h2.85v63.94h-2.85zM575.30 1258.82h2.85v53.28h-2.85zM581.17 1271.00h2.85v41.10h-2.85zM587.05 1275.56h2.85v36.54h-2.85zM592.92 1282.41h2.85v29.69h-2.85zM598.80 1291.55h2.85v20.55h-2.85zM604.67 1295.35h2.85v16.75h-2.85zM610.55 1296.11h2.85v15.99h-2.85zM616.42 1299.92h2.85v12.18h-2.85zM622.30 1302.20h2.85v9.90h-2.85zM628.17 1304.49h2.85v7.61h-2.85zM634.05 1306.77h2.85v5.33h-2.85zM639.92 1308.29h2.85v3.81h-2.85zM645.80 1308.29h2.85v3.81h-2.85zM651.67 1309.82h2.85v2.28h-2.85zM657.55 1310.58h2.85v1.52h-2.85zM663.42 1311.34h2.85v0.76h-2.85z"/>
<path fill="#2800be" d="M316.80 1311.34h2.85v0.76h-2.85zM328.55 1308.29h2.85v3.81h-2.85zM334.43 1307.53h2.85v4.57h-2.85zM340.30 1302.97h2.85v9.13h-2.85zM346.18 1300.30h2.85v11.80h-2.85zM352.05 1296.11h2.85v15.99h-2.85zM357.93 1286.22h2.85v25.88h-2.85zM363.80 1279.37h2.85v32.73h-2.85zM369.68 1269.47h2.85v42.63h-2.85zM375.55 1253.49h2.85v58.61h-2.85zM381.43 1237.50h2.85v74.60h-2.85zM387.30 1223.04h2.85v89.06h-2.85zM393.18 1197.16h2.85v114.94h-2.85zM399.05 1182.70h2.85v129.40h-2.85zM404.93 1178.89h2.85v133.21h-2.85zM410.80 1178.13h2.85v133.97h-2.85zM416.68 1178.13h2.85v133.97h-2.85zM422.55 1175.85h2.85v136.25h-2.85zM428.43 1172.04h2.85v140.06h-2.85zM434.30 1171.28h2.85v140.82h-2.85zM440.18 1168.23h2.85v143.87h-2.85zM446.05 1168.23h2.85v143.87h-2.85zM451.93 1172.04h2.85v140.06h-2.85zM457.80 1172.80h2.85v139.30h-2.85zM463.68 1172.80h2.85v139.30h-2.85zM469.55 1178.13h2.85v133.97h-2.85zM475.43 1178.13h2.85v133.97h-2.85zM481.30 1181.93h2.85v130.17h-2.85zM487.18 1181.93h2.85v130.17h-2.85zM493.05 1182.70h2.85v129.40h-2.85zM498.93 1182.70h2.85v129.40h-2.85zM504.80 1182.70h2.85v129.40h-2.85zM510.68 1185.74h2.85v126.36h-2.85zM516.55 1193.35h2.85v118.75h-2.85zM522.42 1194.88h2.85v117.22h-2.85zM528.30 1195.64h2.85v116.46h-2.85zM534.17 1198.68h2.85v113.42h-2.85zM540.05 1203.25h2.85v108.85h-2.85zM545.92 1204.77h2.85v107.33h-2.85zM551.80 1211.62h2.85v100.48h-2.85zM557.67 1228.37h2.85v83.73h-2.85zM563.55 1235.22h2.85v76.88h-2.85zM569.42 1248.16h2.85v63.94h-2.85zM575.30 1258.82h2.85v53.28h-2.85zM581.17 1271.00h2.85v41.10h-2.85zM587.05 1275.56h2.85v36.54h-2.85zM592.92 1282.41h2.85v29.69h-2.85zM598.80 1291.55h2.85v20.55h-2.85zM604.67 1295.35h2.85v16.75h-2.85zM610.55 1296.11h2.85v15.99h-2.85zM616.42 1299.92h2.85v12.18h-2.85zM622.30 1302.20h2.85v9.90h-2.85zM628.17 1304.49h2.85v7.61h-2.85zM634.05 1306.77h2.85v5.33h-2.85zM639.92 1308.29h2.85v3.81h-2.85zM645.80 1308.29h2.85v3.81h-2.85zM651.67 1309.82h2.85v2.28h-2.85zM657.55 1310.58h2.85v1.52h-2.85zM663.42 1311.34h2.85v0.76h-2.85z"/>
<path fill="#e80008" d="M178.80 1308.60h2.85v3.50h-2.85zM184.68 1307.61h2.85v4.49h-2.85zM190.55 1306.31h2.85v5.79h-2.85zM196.43 1304.49h2.85v7.61h-2.85zM202.30 1304.49h2.85v7.61h-2.85zM208.18 1302.97h2.85v9.13h-2.85zM214.05 1302.97h2.85v9.13h-2.85zM219.93 1300.30h2.85v11.80h-2.85zM225.80 1297.64h2.85v14.46h-2.85zM231.68 1294.59h2.85v17.51h-2.85zM237.55 1293.83h2.85v18.27h-2.85zM243.43 1290.03h2.85v22.07h-2.85zM249.30 1288.50h2.85v23.60h-2.85zM255.18 1283.17h2.85v28.93h-2.85zM261.05 1281.65h2.85v30.45h-2.85zM266.93 1277.85h2.85v34.25h-2.85zM272.80 1273.28h2.85v38.82h-2.85zM278.68 1269.47h2.85v42.63h-2.85zM284.55 1267.57h2.85v44.53h-2.85zM290.43 1263.38h2.85v48.72h-2.85zM296.30 1259.58h2.85v52.52h-2.85zM302.18 1253.49h2.85v58.61h-2.85zM308.05 1246.64h2.85v65.46h-2.85zM313.93 1244.35h2.85v67.75h-2.85zM319.80 1240.55h2.85v71.55h-2.85zM325.68 1235.22h2.85v76.88h-2.85zM331.55 1230.65h2.85v81.45h-2.85zM337.43 1219.23h2.85v92.87h-2.85zM343.30 1222.28h2.85v89.82h-2.85zM349.18 1214.67h2.85v97.43h-2.85zM355.05 1215.43h2.85v96.67h-2.85zM360.93 1207.82h2.85v104.28h-2.85zM366.80 1203.25h2.85v108.85h-2.85zM372.68 1195.64h2.85v116.46h-2.85zM378.55 1196.40h2.85v115.70h-2.85zM384.43 1187.26h2.85v124.84h-2.85zM390.30 1186.50h2.85v125.60h-2.85zM396.18 1184.98h2.85v127.12h-2.85zM402.05 1178.89h2.85v133.21h-2.85zM407.93 1180.41h2.85v131.69h-2.85zM413.80 1178.13h2.85v133.97h-2.85zM419.68 1178.13h2.85v133.97h-2.85zM425.55 1175.85h2.85v136.25h-2.85zM431.43 1172.04h2.85v140.06h-2.85zM437.30 1171.28h2.85v140.82h-2.85zM443.18 1168.23h2.85v143.87h-2.85zM449.05 1172.04h2.85v140.06h-2.85zM454.93 1181.17h2.85v130.93h-2.85zM460.80 1172.80h2.85v139.30h-2.85zM466.68 1182.70h2.85v129.40h-2.85zM472.55 1178.13h2.85v133.97h-2.85zM478.43 1184.22h2.85v127.88h-2.85zM484.30 1181.93h2.85v130.17h-2.85zM490.18 1183.46h2.85v128.64h-2.85zM496.05 1182.70h2.85v129.40h-2.85zM501.93 1182.70h2.85v129.40h-2.85zM507.80 1185.74h2.85v126.36h-2.85zM513.67 1193.35h2.85v118.75h-2.85zM519.55 1194.88h2.85v117.22h-2.85zM525.42 1195.64h2.85v116.46h-2.85zM531.30 1198.68h2.85v113.42h-2.85zM537.17 1203.25h2.85v108.85h-2.85zM543.05 1210.10h2.85v102.00h-2.85zM548.92 1204.77h2.85v107.33h-2.85zM554.80 1207.82h2.85v104.28h-2.85zM560.67 1217.71h2.85v94.39h-2.85zM566.55 1221.52h2.85v90.58h-2.85zM572.42 1222.28h2.85v89.82h-2.85zM578.30 1229.13h2.85v82.97h-2.85zM584.17 1227.61h2.85v84.49h-2.85zM590.05 1235.22h2.85v76.88h-2.85zM595.92 1237.50h2.85v74.60h-2.85zM601.80 1239.79h2.85v72.31h-2.85zM607.67 1242.07h2.85v70.03h-2.85zM613.55 1244.35h2.85v67.75h-2.85zM619.42 1245.88h2.85v66.22h-2.85zM625.30 1250.44h2.85v61.66h-2.85zM631.17 1258.05h2.85v54.05h-2.85zM637.05 1256.53h2.85v55.57h-2.85zM642.92 1261.86h2.85v50.24h-2.85zM648.80 1264.91h2.85v47.19h-2.85zM654.67 1265.67h2.85v46.43h-2.85zM660.55 1267.19h2.85v44.91h-2.85zM666.42 1265.67h2.85v46.43h-2.85zM672.30 1271.00h2.85v41.10h-2.85zM678.17 1273.28h2.85v38.82h-2.85zM684.05 1271.76h2.85v40.34h-2.85zM689.92 1277.85h2.85v34.25h-2.85zM695.80 1277.85h2.85v34.25h-2.85zM701.67 1280.13h2.85v31.97h-2.85zM707.55 1282.41h2.85v29.69h-2.85zM713.42 1282.41h2.85v29.69h-2.85zM719.30 1283.17h2.85v28.93h-2.85zM725.17 1286.22h2.85v25.88h-2.85zM731.05 1287.74h2.85v24.36h-2.85zM736.92 1287.74h2.85v24.36h-2.85zM742.80 1288.50h2.85v23.60h-2.85zM748.67 1291.55h2.85v20.55h-2.85zM754.55 1293.83h2.85v18.27h-2.85zM760.42 1294.59h2.85v17.51h-2.85z"/>
<path fill="#d70a37" d="M313.93 1311.34h2.85v0.76h-2.85zM319.80 1311.34h2.85v0.76h-2.85zM325.68 1308.29h2.85v3.81h-2.85zM331.55 1307.53h2.85v4.57h-2.85zM337.43 1302.97h2.85v9.13h-2.85zM343.30 1300.30h2.85v11.80h-2.85zM349.18 1296.11h2.85v15.99h-2.85zM355.05 1286.22h2.85v25.88h-2.85zM360.93 1279.37h2.85v32.73h-2.85zM366.80 1269.47h2.85v42.63h-2.85zM372.68 1253.49h2.85v58.61h-2.85zM378.55 1237.50h2.85v74.60h-2.85zM384.43 1223.04h2.85v89.06h-2.85zM390.30 1197.16h2.85v114.94h-2.85zM396.18 1184.98h2.85v127.12h-2.85zM402.05 1178.89h2.85v133.21h-2.85zM407.93 1180.41h2.85v131.69h-2.85zM413.80 1178.13h2.85v133.97h-2.85zM419.68 1178.13h2.85v133.97h-2.85zM425.55 1175.85h2.85v136.25h-2.85zM431.43 1172.04h2.85v140.06h-2.85zM437.30 1171.28h2.85v140.82h-2.85zM443.18 1168.23h2.85v143.87h-2.85zM449.05 1172.04h2.85v140.06h-2.85zM454.93 1181.17h2.85v130.93h-2.85zM460.80 1172.80h2.85v139.30h-2.85zM466.68 1182.70h2.85v129.40h-2.85zM472.55 1178.13h2.85v133.97h-2.85zM478.43 1184.22h2.85v127.88h-2.85zM484.30 1181.93h2.85v130.17h-2.85zM490.18 1183.46h2.85v128.64h-2.85zM496.05 1182.70h2.85v129.40h-2.85zM501.93 1182.70h2.85v129.40h-2.85zM507.80 1185.74h2.85v126.36h-2.85zM513.67 1193.35h2.85v118.75h-2.85zM519.55 1194.88h2.85v117.22h-2.85zM525.42 1195.64h2.85v116.46h-2.85zM531.30 1198.68h2.85v113.42h-2.85zM537.17 1203.25h2.85v108.85h-2.85zM543.05 1210.10h2.85v102.00h-2.85zM548.92 1204.77h2.85v107.33h-2.85zM554.80 1211.62h2.85v100.48h-2.85zM560.67 1228.37h2.85v83.73h-2.85zM566.55 1235.22h2.85v76.88h-2.85zM572.42 1248.16h2.85v63.94h-2.85zM578.30 1258.82h2.85v53.28h-2.85zM584.17 1271.00h2.85v41.10h-2.85zM590.05 1275.56h2.85v36.54h-2.85zM595.92 1282.41h2.85v29.69h-2.85zM601.80 1291.55h2.85v20.55h-2.85zM607.67 1295.35h2.85v16.75h-2.85zM613.55 1296.11h2.85v15.99h-2.85zM619.42 1299.92h2.85v12.18h-2.85zM625.30 1302.20h2.85v9.90h-2.85zM631.17 1304.49h2.85v7.61h-2.85zM637.05 1306.77h2.85v5.33h-2.85zM642.92 1308.29h2.85v3.81h-2.85zM648.80 1308.29h2.85v3.81h-2.85zM654.67 1309.82h2.85v2.28h-2.85zM660.55 1310.58h2.85v1.52h-2.85zM666.42 1311.34h2.85v0.76h-2.85z"/>
<path fill="none" stroke="#000" stroke-width="2.60" d="M249.44 1312.10v-18.00M249.44 931.50v18.00M322.88 1312.10v-36.00M322.88 931.50v36.00M396.31 1312.10v-18.00M396.31 931.50v18.00M469.75 1312.10v-36.00M469.75 931.50v36.00M543.19 1312.10v-18.00M543.19 931.50v18.00M616.62 1312.10v-36.00M616.62 931.50v36.00M690.06 1312.10v-18.00M690.06 931.50v18.00M176.00 1274.04h18.00M763.50 1274.04h-18.00M176.00 1235.98h36.00M763.50 1235.98h-36.00M176.00 1197.92h18.00M763.50 1197.92h-18.00M176.00 1159.86h36.00M763.50 1159.86h-36.00M176.00 1121.80h18.00M763.50 1121.80h-18.00M176.00 1083.74h36.00M763.50 1083.74h-36.00M176.00 1045.68h18.00M763.50 1045.68h-18.00M176.00 1007.62h36.00M763.50 1007.62h-36.00M176.00 969.56h18.00M763.50 969.56h-18.00"/>
<rect x="176.00" y="931.50" width="587.50" height="380.60" fill="none" stroke="#000" stroke-width="2.60"/>
<path fill="#0500c3" d="M957.85 1311.34h2.85v0.76h-2.85zM963.73 1307.15h2.85v4.95h-2.85zM969.61 1300.68h2.85v11.42h-2.85zM975.50 1280.89h2.85v31.21h-2.85zM981.38 1253.49h2.85v58.61h-2.85zM987.26 1212.76h2.85v99.34h-2.85zM993.14 1154.53h2.85v157.57h-2.85zM999.02 1102.01h2.85v210.09h-2.85zM1004.90 1040.35h2.85v271.75h-2.85zM1010.78 992.02h2.85v320.08h-2.85zM1016.66 969.94h2.85v342.16h-2.85zM1022.54 955.86h2.85v356.24h-2.85zM1028.42 957.38h2.85v354.72h-2.85zM1034.31 998.87h2.85v313.23h-2.85zM1040.19 1032.36h2.85v279.74h-2.85zM1046.07 1078.79h2.85v233.31h-2.85zM1051.95 1119.52h2.85v192.58h-2.85zM1057.83 1154.53h2.85v157.57h-2.85zM1063.71 1197.92h2.85v114.18h-2.85zM1069.59 1225.32h2.85v86.78h-2.85zM1075.47 1250.06h2.85v62.04h-2.85zM1081.35 1267.57h2.85v44.53h-2.85zM1087.23 1281.27h2.85v30.83h-2.85zM1093.12 1290.41h2.85v21.69h-2.85zM1099.00 1299.16h2.85v12.94h-2.85zM1104.88 1303.73h2.85v8.37h-2.85zM1110.76 1306.39h2.85v5.71h-2.85zM1116.64 1308.29h2.85v3.81h-2.85zM1122.52 1309.82h2.85v2.28h-2.85zM1128.40 1310.96h2.85v1.14h-2.85zM1134.28 1311.34h2.85v0.76h-2.85zM1140.16 1311.72h2.85v0.38h-2.85z"/>
<path fill="#2800be" d="M981.38 1311.34h2.85v0.76h-2.85zM987.26 1311.34h2.85v0.76h-2.85zM993.14 1310.96h2.85v1.14h-2.85zM999.02 1310.58h2.85v1.52h-2.85zM1004.90 1309.82h2.85v2.28h-2.85zM1010.78 1309.06h2.85v3.04h-2.85zM1016.66 1308.29h2.85v3.81h-2.85zM1022.54 1307.15h2.85v4.95h-2.85zM1028.42 1305.63h2.85v6.47h-2.85zM1034.31 1304.11h2.85v7.99h-2.85zM1040.19 1302.58h2.85v9.51h-2.85zM1046.07 1299.54h2.85v12.56h-2.85zM1051.95 1297.64h2.85v14.46h-2.85zM1057.83 1292.31h2.85v19.79h-2.85zM1063.71 1291.17h2.85v20.93h-2.85zM1069.59 1286.22h2.85v25.88h-2.85zM1075.47 1283.17h2.85v28.93h-2.85zM1081.35 1278.23h2.85v33.87h-2.85zM1087.23 1281.27h2.85v30.83h-2.85zM1093.12 1290.41h2.85v21.69h-2.85zM1099.00 1299.16h2.85v12.94h-2.85zM1104.88 1303.73h2.85v8.37h-2.85zM1110.76 1306.39h2.85v5.71h-2.85zM1116.64 1308.29h2.85v3.81h-2.85zM1122.52 1309.82h2.85v2.28h-2.85zM1128.40 1310.96h2.85v1.14h-2.85zM1134.28 1311.34h2.85v0.76h-2.85z"/>
<path fill="#e80008" d="M978.50 1311.72h2.85v0.38h-2.85zM984.38 1311.34h2.85v0.76h-2.85zM990.26 1311.34h2.85v0.76h-2.85zM996.14 1310.96h2.85v1.14h-2.85zM1002.02 1310.58h2.85v1.52h-2.85zM1007.90 1309.82h2.85v2.28h-2.85zM1013.78 1309.06h2.85v3.04h-2.85zM1019.66 1308.29h2.85v3.81h-2.85zM1025.54 1307.15h2.85v4.95h-2.85zM1031.42 1305.63h2.85v6.47h-2.85zM1037.31 1304.11h2.85v7.99h-2.85zM1043.19 1302.58h2.85v9.51h-2.85zM1049.07 1299.54h2.85v12.56h-2.85zM1054.95 1297.64h2.85v14.46h-2.85zM1060.83 1292.31h2.85v19.79h-2.85zM1066.71 1291.17h2.85v20.93h-2.85zM1072.59 1286.22h2.85v25.88h-2.85zM1078.47 1283.17h2.85v28.93h-2.85zM1084.35 1278.23h2.85v33.87h-2.85zM1090.23 1277.08h2.85v35.02h-2.85zM1096.12 1275.56h2.85v36.54h-2.85zM1102.00 1270.23h2.85v41.87h-2.85zM1107.88 1269.09h2.85v43.01h-2.85zM1113.76 1263.76h2.85v48.34h-2.85zM1119.64 1260.34h2.85v51.76h-2.85zM1125.52 1257.67h2.85v54.43h-2.85zM1131.40 1254.25h2.85v57.85h-2.85zM1137.28 1251.20h2.85v60.90h-2.85zM1143.16 1251.20h2.85v60.90h-2.85zM1149.04 1251.20h2.85v60.90h-2.85zM1154.93 1248.92h2.85v63.18h-2.85zM1160.81 1246.26h2.85v65.84h-2.85zM1166.69 1246.26h2.85v65.84h-2.85zM1172.57 1246.64h2.85v65.46h-2.85zM1178.45 1242.07h2.85v70.03h-2.85zM1184.33 1237.88h2.85v74.22h-2.85zM1190.21 1242.07h2.85v70.03h-2.85zM1196.09 1243.97h2.85v68.13h-2.85zM1201.97 1242.83h2.85v69.27h-2.85zM1207.86 1242.07h2.85v70.03h-2.85zM1213.74 1242.07h2.85v70.03h-2.85zM1219.62 1243.59h2.85v68.51h-2.85zM1225.50 1244.73h2.85v67.37h-2.85zM1231.38 1247.40h2.85v64.70h-2.85zM1237.26 1247.40h2.85v64.70h-2.85zM1243.14 1249.30h2.85v62.80h-2.85zM1249.02 1249.30h2.85v62.80h-2.85zM1254.90 1251.97h2.85v60.13h-2.85zM1260.78 1250.44h2.85v61.66h-2.85zM1266.66 1253.87h2.85v58.23h-2.85zM1272.55 1251.97h2.85v60.13h-2.85zM1278.43 1252.73h2.85v59.37h-2.85zM1284.31 1256.53h2.85v55.57h-2.85zM1290.19 1259.96h2.85v52.14h-2.85zM1296.07 1259.20h2.85v52.90h-2.85zM1301.95 1263.38h2.85v48.72h-2.85zM1307.83 1260.72h2.85v51.38h-2.85zM1313.71 1261.86h2.85v50.24h-2.85zM1319.59 1265.67h2.85v46.43h-2.85zM1325.47 1267.57h2.85v44.53h-2.85zM1331.36 1267.57h2.85v44.53h-2.85zM1337.24 1269.85h2.85v42.25h-2.85zM1343.12 1271.76h2.85v40.34h-2.85zM1349.00 1273.28h2.85v38.82h-2.85zM1354.88 1274.80h2.85v37.30h-2.85zM1360.76 1275.94h2.85v36.16h-2.85zM1366.64 1276.70h2.85v35.40h-2.85zM1372.52 1277.47h2.85v34.63h-2.85zM1378.40 1279.75h2.85v32.35h-2.85zM1384.28 1277.85h2.85v34.25h-2.85zM1390.17 1282.03h2.85v30.07h-2.85zM1396.05 1282.03h2.85v30.07h-2.85zM1401.93 1283.55h2.85v28.54h-2.85zM1407.81 1283.94h2.85v28.16h-2.85zM1413.69 1286.98h2.85v25.12h-2.85zM1419.57 1286.98h2.85v25.12h-2.85zM1425.45 1288.50h2.85v23.60h-2.85zM1431.33 1290.41h2.85v21.69h-2.85zM1437.21 1290.41h2.85v21.69h-2.85zM1443.09 1290.41h2.85v21.69h-2.85zM1448.98 1293.45h2.85v18.65h-2.85zM1454.86 1291.93h2.85v20.17h-2.85zM1460.74 1292.69h2.85v19.41h-2.85zM1466.62 1292.31h2.85v19.79h-2.85z"/>
<path fill="#d70a37" d="M984.38 1311.34h2.85v0.76h-2.85zM990.26 1311.34h2.85v0.76h-2.85zM996.14 1310.96h2.85v1.14h-2.85zM1002.02 1310.58h2.85v1.52h-2.85zM1007.90 1309.82h2.85v2.28h-2.85zM1013.78 1309.06h2.85v3.04h-2.85zM1019.66 1308.29h2.85v3.81h-2.85zM1025.54 1307.15h2.85v4.95h-2.85zM1031.42 1305.63h2.85v6.47h-2.85zM1037.31 1304.11h2.85v7.99h-2.85zM1043.19 1302.58h2.85v9.51h-2.85zM1049.07 1299.54h2.85v12.56h-2.85zM1054.95 1297.64h2.85v14.46h-2.85zM1060.83 1292.31h2.85v19.79h-2.85zM1066.71 1291.17h2.85v20.93h-2.85zM1072.59 1286.22h2.85v25.88h-2.85zM1078.47 1283.17h2.85v28.93h-2.85zM1084.35 1278.23h2.85v33.87h-2.85zM1090.23 1281.27h2.85v30.83h-2.85zM1096.12 1290.41h2.85v21.69h-2.85zM1102.00 1299.16h2.85v12.94h-2.85zM1107.88 1303.73h2.85v8.37h-2.85zM1113.76 1306.39h2.85v5.71h-2.85zM1119.64 1308.29h2.85v3.81h-2.85zM1125.52 1309.82h2.85v2.28h-2.85zM1131.40 1310.96h2.85v1.14h-2.85zM1137.28 1311.34h2.85v0.76h-2.85z"/>
<path fill="none" stroke="#000" stroke-width="2.60" d="M979.32 1312.10v-18.00M979.32 931.50v18.00M1077.33 1312.10v-36.00M1077.33 931.50v36.00M1175.35 1312.10v-18.00M1175.35 931.50v18.00M1273.37 1312.10v-36.00M1273.37 931.50v36.00M1371.38 1312.10v-18.00M1371.38 931.50v18.00M881.30 1274.04h18.00M1469.40 1274.04h-18.00M881.30 1235.98h36.00M1469.40 1235.98h-36.00M881.30 1197.92h18.00M1469.40 1197.92h-18.00M881.30 1159.86h36.00M1469.40 1159.86h-36.00M881.30 1121.80h18.00M1469.40 1121.80h-18.00M881.30 1083.74h36.00M1469.40 1083.74h-36.00M881.30 1045.68h18.00M1469.40 1045.68h-18.00M881.30 1007.62h36.00M1469.40 1007.62h-36.00M881.30 969.56h18.00M1469.40 969.56h-18.00"/>
<rect x="881.30" y="931.50" width="588.10" height="380.60" fill="none" stroke="#000" stroke-width="2.60"/>
<rect x="519.8" y="18.2" width="243.7" height="101" fill="#fff" stroke="#000" stroke-width="2.60"/>
<path d="M539.2 48.3H594.8" stroke="#e80008" stroke-width="2.6"/>
<path d="M539.2 89.3H594.8" stroke="#0500c3" stroke-width="2.6"/>
<defs><filter id="ff" x="0" y="0" width="1" height="1"><feOffset dx="0" dy="0"/></filter></defs>
<g filter="url(#ff)"><text x="176.00" y="452.80" font-size="54" text-anchor="middle">0.5</text><text x="322.88" y="452.80" font-size="54" text-anchor="middle">0.75</text><text x="469.75" y="452.80" font-size="54" text-anchor="middle">1</text><text x="616.62" y="452.80" font-size="54" text-anchor="middle">1.25</text><text x="763.50" y="452.80" font-size="54" text-anchor="middle">1.5</text><text x="159.50" y="416.00" font-size="54" text-anchor="end">0</text><text x="159.50" y="289.27" font-size="54" text-anchor="end">1</text><text x="159.50" y="162.53" font-size="54" text-anchor="end">2</text><text x="159.50" y="35.80" font-size="54" text-anchor="end">3</text><text x="881.30" y="452.80" font-size="54" text-anchor="middle">0</text><text x="1077.33" y="452.80" font-size="54" text-anchor="middle">0.1</text><text x="1273.37" y="452.80" font-size="54" text-anchor="middle">0.2</text><text x="1469.40" y="452.80" font-size="54" text-anchor="middle">0.3</text><text x="864.80" y="416.00" font-size="54" text-anchor="end">0</text><text x="864.80" y="320.95" font-size="54" text-anchor="end">1</text><text x="864.80" y="225.90" font-size="54" text-anchor="end">2</text><text x="864.80" y="130.85" font-size="54" text-anchor="end">3</text><text x="864.80" y="35.80" font-size="54" text-anchor="end">4</text><text x="176.00" y="909.40" font-size="54" text-anchor="middle">0.5</text><text x="322.88" y="909.40" font-size="54" text-anchor="middle">0.75</text><text x="469.75" y="909.40" font-size="54" text-anchor="middle">1</text><text x="616.62" y="909.40" font-size="54" text-anchor="middle">1.25</text><text x="763.50" y="909.40" font-size="54" text-anchor="middle">1.5</text><text x="159.50" y="872.60" font-size="54" text-anchor="end">0</text><text x="159.50" y="777.55" font-size="54" text-anchor="end">1</text><text x="159.50" y="682.50" font-size="54" text-anchor="end">2</text><text x="159.50" y="587.45" font-size="54" text-anchor="end">3</text><text x="159.50" y="492.40" font-size="54" text-anchor="end">4</text><text x="881.30" y="909.40" font-size="54" text-anchor="middle">0</text><text x="1077.33" y="909.40" font-size="54" text-anchor="middle">0.1</text><text x="1273.37" y="909.40" font-size="54" text-anchor="middle">0.2</text><text x="1469.40" y="909.40" font-size="54" text-anchor="middle">0.3</text><text x="864.80" y="872.60" font-size="54" text-anchor="end">0</text><text x="864.80" y="745.87" font-size="54" text-anchor="end">2</text><text x="864.80" y="619.13" font-size="54" text-anchor="end">4</text><text x="864.80" y="492.40" font-size="54" text-anchor="end">6</text><text x="176.00" y="1366.50" font-size="54" text-anchor="middle">0.5</text><text x="322.88" y="1366.50" font-size="54" text-anchor="middle">0.75</text><text x="469.75" y="1366.50" font-size="54" text-anchor="middle">1</text><text x="616.62" y="1366.50" font-size="54" text-anchor="middle">1.25</text><text x="763.50" y="1366.50" font-size="54" text-anchor="middle">1.5</text><text x="159.50" y="1329.70" font-size="54" text-anchor="end">0</text><text x="159.50" y="1253.58" font-size="54" text-anchor="end">1</text><text x="159.50" y="1177.46" font-size="54" text-anchor="end">2</text><text x="159.50" y="1101.34" font-size="54" text-anchor="end">3</text><text x="159.50" y="1025.22" font-size="54" text-anchor="end">4</text><text x="159.50" y="949.10" font-size="54" text-anchor="end">5</text><text x="881.30" y="1366.50" font-size="54" text-anchor="middle">0</text><text x="1077.33" y="1366.50" font-size="54" text-anchor="middle">0.1</text><text x="1273.37" y="1366.50" font-size="54" text-anchor="middle">0.2</text><text x="1469.40" y="1366.50" font-size="54" text-anchor="middle">0.3</text><text x="864.80" y="1329.70" font-size="54" text-anchor="end">0</text><text x="864.80" y="1253.58" font-size="54" text-anchor="end">2</text><text x="864.80" y="1177.46" font-size="54" text-anchor="end">4</text><text x="864.80" y="1101.34" font-size="54" text-anchor="end">6</text><text x="864.80" y="1025.22" font-size="54" text-anchor="end">8</text><text x="864.80" y="949.10" font-size="54" text-anchor="end">10</text><text x="632" y="60" font-size="33.5">standard</text><text x="632" y="100.8" font-size="34">CISNE</text><text transform="translate(105.8 208.30) rotate(-90)" font-size="52" text-anchor="middle">E[<tspan font-style="italic">m</tspan>]=0.5</text><text transform="translate(105.8 664.90) rotate(-90)" font-size="52" text-anchor="middle">E[<tspan font-style="italic">m</tspan>]=1</text><text transform="translate(105.8 1121.80) rotate(-90)" font-size="52" text-anchor="middle">E[<tspan font-style="italic">m</tspan>]=2</text><text transform="translate(44 665) rotate(-90)" font-size="65" text-anchor="middle">Counts (x1000)</text><text x="470" y="1420.5" font-size="52" text-anchor="middle"><tspan font-style="italic">CI</tspan>(<tspan font-style="italic">f</tspan><tspan font-style="italic" font-size="36" dy="21">a</tspan><tspan dy="-21">=0.5)</tspan></text><text transform="translate(1038 1420.5) scale(1.1 1)" font-size="52" style="stroke-width:1.1px">&#963;</text><text x="1068" y="1420.5" font-size="52">(<tspan font-style="italic">CI</tspan>(<tspan font-style="italic">f</tspan><tspan font-style="italic" font-size="36" dy="21">a</tspan><tspan dy="-21">=0.5))</tspan></text></g>
</svg></body></html>
